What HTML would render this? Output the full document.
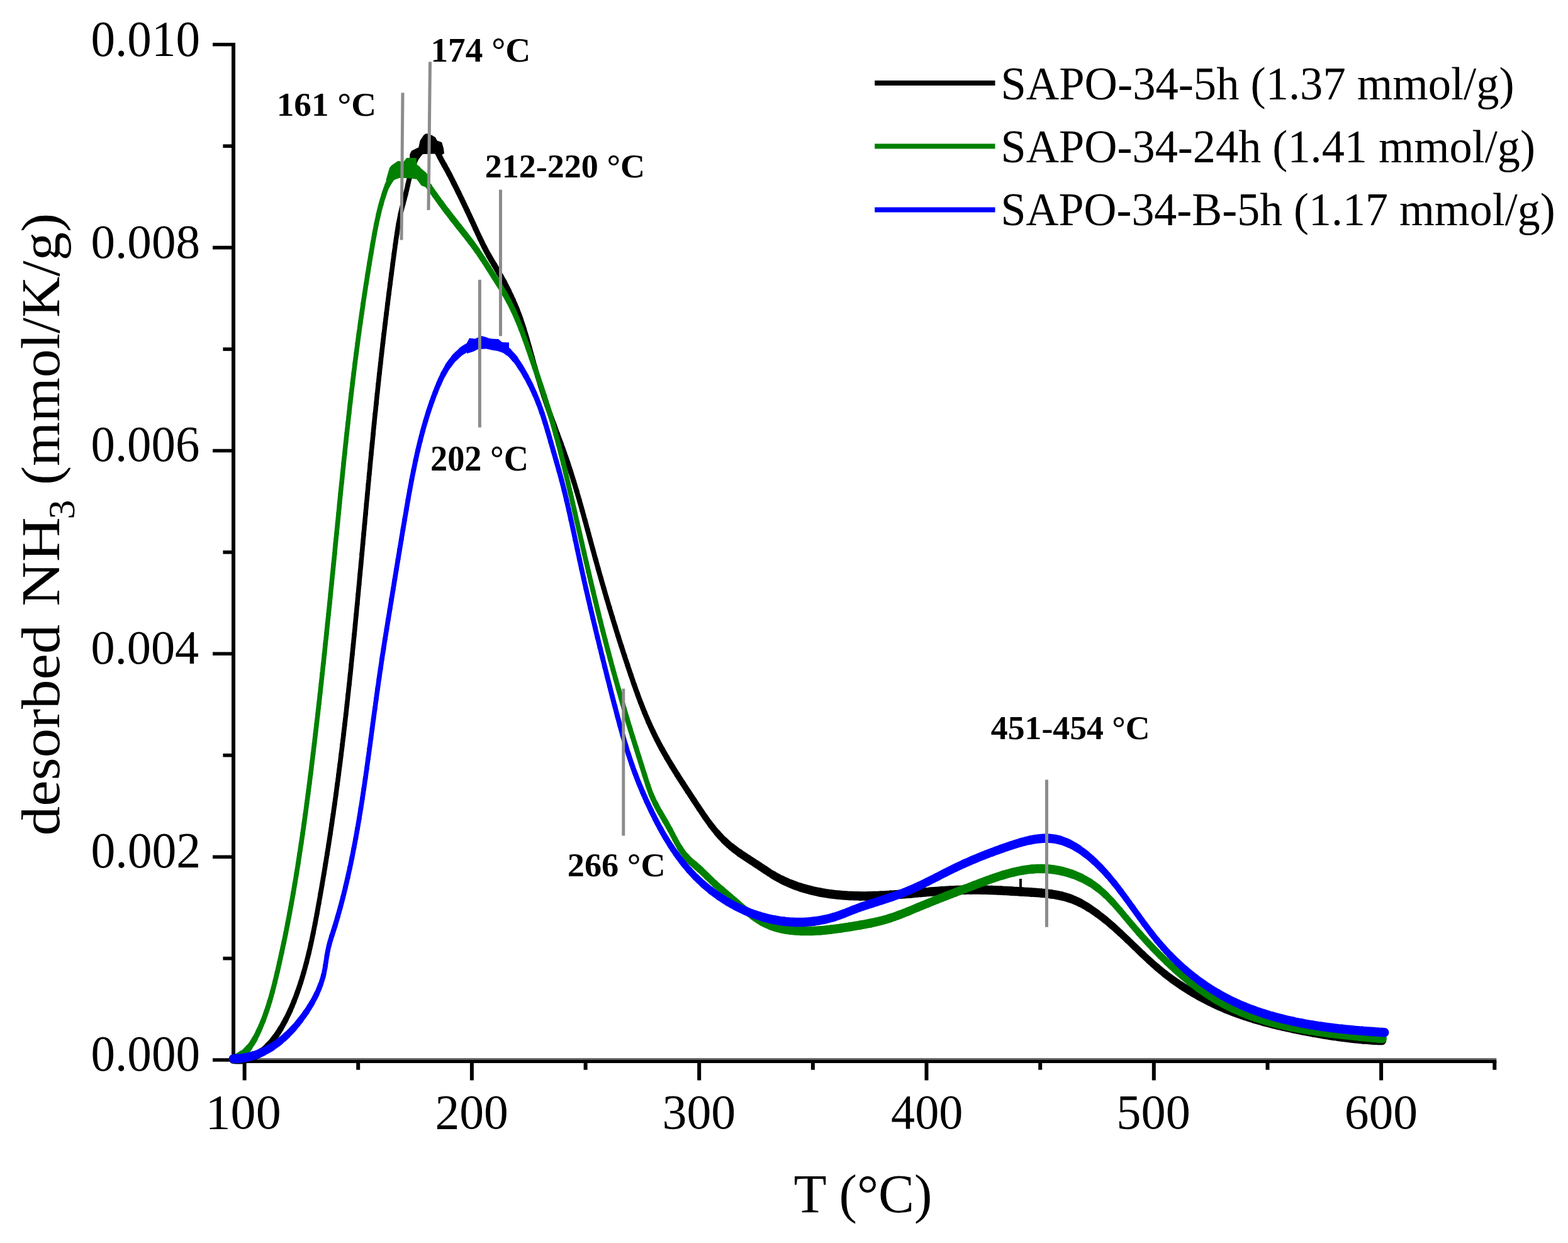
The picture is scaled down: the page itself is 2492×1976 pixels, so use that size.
<!DOCTYPE html><html><head><meta charset="utf-8"><title>NH3-TPD</title><style>html,body{margin:0;padding:0;background:#fff;}svg{display:block;}text{font-family:"Liberation Serif","DejaVu Serif",serif;fill:#000;}</style></head><body>
<svg xmlns="http://www.w3.org/2000/svg" width="2492" height="1976" viewBox="0 0 2492 1976">
<rect width="2492" height="1976" fill="#fff"/>
<g stroke="#000" fill="none" stroke-linecap="butt">
<path d="M371.0,68 V1690.3" stroke-width="6"/>
<rect x="374" y="1682.1" width="2004.3" height="2.7" fill="#666" stroke="none"/>
<path d="M368,1687.4 H2378.3" stroke-width="5.2"/>
<path d="M338,1685.0 H371" stroke-width="5.6"/>
<path d="M354.4,1523.6 H371" stroke-width="5.6"/>
<path d="M338,1362.2 H371" stroke-width="5.6"/>
<path d="M354.4,1200.7 H371" stroke-width="5.6"/>
<path d="M338,1039.3 H371" stroke-width="5.6"/>
<path d="M354.4,877.9 H371" stroke-width="5.6"/>
<path d="M338,716.5 H371" stroke-width="5.6"/>
<path d="M354.4,555.1 H371" stroke-width="5.6"/>
<path d="M338,393.6 H371" stroke-width="5.6"/>
<path d="M354.4,232.2 H371" stroke-width="5.6"/>
<path d="M338,70.8 H371" stroke-width="5.6"/>
<path d="M388.6,1687 V1717.4" stroke-width="6"/>
<path d="M569.2,1687 V1700.7" stroke-width="6"/>
<path d="M749.9,1687 V1717.4" stroke-width="6"/>
<path d="M930.6,1687 V1700.7" stroke-width="6"/>
<path d="M1111.2,1687 V1717.4" stroke-width="6"/>
<path d="M1291.9,1687 V1700.7" stroke-width="6"/>
<path d="M1472.5,1687 V1717.4" stroke-width="6"/>
<path d="M1653.2,1687 V1700.7" stroke-width="6"/>
<path d="M1833.8,1687 V1717.4" stroke-width="6"/>
<path d="M2014.5,1687 V1700.7" stroke-width="6"/>
<path d="M2195.1,1687 V1717.4" stroke-width="6"/>
<path d="M2375.3,1687 V1700.7" stroke-width="6"/>
</g>
<g fill="none" stroke="#000000" stroke-linejoin="round" stroke-linecap="round">
<polyline stroke-width="14.50" points="371.0,1683.9 373.0,1684.1 375.0,1684.2 377.0,1684.3 379.0,1684.3 381.0,1684.3 383.0,1684.2 385.0,1684.0 387.0,1683.8"/>
<polyline stroke-width="14.08" points="387.0,1683.8 388.9,1683.6 390.9,1683.2 392.9,1682.9 394.8,1682.4 396.8,1681.9 398.7,1681.3 400.6,1680.6 402.4,1679.9"/>
<polyline stroke-width="12.70" points="402.4,1679.9 404.3,1679.1 406.1,1678.3 407.8,1677.3 409.6,1676.4 411.3,1675.3 412.9,1674.2 414.6,1673.0 416.2,1671.8"/>
<polyline stroke-width="11.16" points="416.2,1671.8 417.7,1670.6 419.3,1669.3 420.7,1667.9 422.2,1666.6 423.6,1665.2 425.0,1663.7 426.4,1662.3 427.7,1660.8"/>
<polyline stroke-width="10.16" points="427.7,1660.8 429.0,1659.3 430.3,1657.7 431.6,1656.2 432.8,1654.6 434.1,1653.0 435.3,1651.4 436.4,1649.8 437.6,1648.2"/>
<polyline stroke-width="9.58" points="437.6,1648.2 438.7,1646.5 439.9,1644.9 441.0,1643.2 442.1,1641.6 443.2,1639.9 444.2,1638.2 445.3,1636.5 446.3,1634.8"/>
<polyline stroke-width="9.16" points="446.3,1634.8 447.3,1633.1 448.4,1631.3 449.4,1629.6 450.3,1627.8 451.3,1626.1 452.3,1624.3 453.2,1622.6 454.1,1620.8"/>
<polyline stroke-width="8.82" points="454.1,1620.8 455.0,1619.0 455.9,1617.2 456.8,1615.4 457.7,1613.6 458.6,1611.8 459.4,1610.0 460.3,1608.2 461.1,1606.4"/>
<polyline stroke-width="8.55" points="461.1,1606.4 461.9,1604.6 462.7,1602.7 463.5,1600.9 464.3,1599.0 465.0,1597.2 465.8,1595.3 466.6,1593.5 467.3,1591.6"/>
<polyline stroke-width="8.36" points="467.3,1591.6 468.0,1589.8 468.7,1587.9 469.5,1586.0 470.2,1584.2 470.9,1582.3 471.5,1580.4 472.2,1578.5 472.9,1576.6"/>
<polyline stroke-width="8.21" points="472.9,1576.6 473.6,1574.7 474.2,1572.9 474.9,1571.0 475.5,1569.1 476.1,1567.2 476.8,1565.3 477.4,1563.4 478.0,1561.5"/>
<polyline stroke-width="8.09" points="478.0,1561.5 478.6,1559.6 479.2,1557.6 479.8,1555.7 480.4,1553.8 480.9,1551.9 481.5,1550.0 482.1,1548.1 482.6,1546.1"/>
<polyline stroke-width="7.99" points="482.6,1546.1 483.2,1544.2 483.7,1542.3 484.3,1540.4 484.8,1538.4 485.3,1536.5 485.8,1534.6 486.3,1532.6 486.9,1530.7"/>
<polyline stroke-width="7.91" points="486.9,1530.7 487.4,1528.8 487.9,1526.8 488.3,1524.9 488.8,1522.9 489.3,1521.0 489.8,1519.1 490.3,1517.1 490.7,1515.2"/>
<polyline stroke-width="7.85" points="490.7,1515.2 491.2,1513.2 491.7,1511.3 492.1,1509.3 492.6,1507.4 493.0,1505.4 493.4,1503.5 493.9,1501.5 494.3,1499.6"/>
<polyline stroke-width="7.80" points="494.3,1499.6 494.7,1497.6 495.2,1495.7 495.6,1493.7 496.0,1491.7 496.4,1489.8 496.8,1487.8 497.2,1485.9 497.6,1483.9"/>
<polyline stroke-width="7.76" points="497.6,1483.9 498.0,1481.9 498.4,1480.0 498.8,1478.0 499.2,1476.1 499.6,1474.1 500.0,1472.1 500.4,1470.2 500.7,1468.2"/>
<polyline stroke-width="7.74" points="500.7,1468.2 501.1,1466.2 501.5,1464.3 501.9,1462.3 502.2,1460.3 502.6,1458.4 503.0,1456.4 503.3,1454.4 503.7,1452.5"/>
<polyline stroke-width="7.72" points="503.7,1452.5 504.1,1450.5 504.4,1448.5 504.8,1446.6 505.1,1444.6 505.5,1442.6 505.8,1440.7 506.2,1438.7 506.6,1436.7"/>
<polyline stroke-width="7.71" points="506.6,1436.7 506.9,1434.8 507.3,1432.8 507.6,1430.8 508.0,1428.8 508.3,1426.9 508.7,1424.9 509.0,1422.9 509.3,1421.0"/>
<polyline stroke-width="7.70" points="509.3,1421.0 509.7,1419.0 510.0,1417.0 510.4,1415.0 510.7,1413.1 511.1,1411.1 511.4,1409.1 511.7,1407.2 512.1,1405.2"/>
<polyline stroke-width="7.69" points="512.1,1405.2 512.4,1403.2 512.7,1401.2 513.1,1399.3 513.4,1397.3 513.7,1395.3 514.1,1393.3 514.4,1391.4 514.7,1389.4"/>
<polyline stroke-width="7.69" points="514.7,1389.4 515.1,1387.4 515.4,1385.5 515.7,1383.5 516.1,1381.5 516.4,1379.5 516.7,1377.6 517.0,1375.6 517.3,1373.6"/>
<polyline stroke-width="7.68" points="517.3,1373.6 517.7,1371.6 518.0,1369.7 518.3,1367.7 518.6,1365.7 518.9,1363.7 519.3,1361.8 519.6,1359.8 519.9,1357.8"/>
<polyline stroke-width="7.67" points="519.9,1357.8 520.2,1355.8 520.5,1353.9 520.8,1351.9 521.1,1349.9 521.5,1347.9 521.8,1345.9 522.1,1344.0 522.4,1342.0"/>
<polyline stroke-width="7.66" points="522.4,1342.0 522.7,1340.0 523.0,1338.0 523.3,1336.1 523.6,1334.1 523.9,1332.1 524.2,1330.1 524.5,1328.1 524.8,1326.2"/>
<polyline stroke-width="7.65" points="524.8,1326.2 525.1,1324.2 525.4,1322.2 525.7,1320.2 526.0,1318.3 526.3,1316.3 526.6,1314.3 526.9,1312.3 527.2,1310.3"/>
<polyline stroke-width="7.65" points="527.2,1310.3 527.5,1308.4 527.8,1306.4 528.0,1304.4 528.3,1302.4 528.6,1300.4 528.9,1298.5 529.2,1296.5 529.5,1294.5"/>
<polyline stroke-width="7.64" points="529.5,1294.5 529.8,1292.5 530.1,1290.5 530.3,1288.6 530.6,1286.6 530.9,1284.6 531.2,1282.6 531.5,1280.6 531.7,1278.6"/>
<polyline stroke-width="7.63" points="531.7,1278.6 532.0,1276.7 532.3,1274.7 532.6,1272.7 532.8,1270.7 533.1,1268.7 533.4,1266.8 533.7,1264.8 533.9,1262.8"/>
<polyline stroke-width="7.63" points="533.9,1262.8 534.2,1260.8 534.5,1258.8 534.7,1256.8 535.0,1254.9 535.3,1252.9 535.5,1250.9 535.8,1248.9 536.1,1246.9"/>
<polyline stroke-width="7.62" points="536.1,1246.9 536.3,1244.9 536.6,1243.0 536.9,1241.0 537.1,1239.0 537.4,1237.0 537.7,1235.0 537.9,1233.0 538.2,1231.1"/>
<polyline stroke-width="7.61" points="538.2,1231.1 538.4,1229.1 538.7,1227.1 538.9,1225.1 539.2,1223.1 539.4,1221.1 539.7,1219.2 540.0,1217.2 540.2,1215.2"/>
<polyline stroke-width="7.61" points="540.2,1215.2 540.5,1213.2 540.7,1211.2 541.0,1209.2 541.2,1207.2 541.5,1205.3 541.7,1203.3 542.0,1201.3 542.2,1199.3"/>
<polyline stroke-width="7.60" points="542.2,1199.3 542.4,1197.3 542.7,1195.3 542.9,1193.3 543.2,1191.4 543.4,1189.4 543.7,1187.4 543.9,1185.4 544.1,1183.4"/>
<polyline stroke-width="7.60" points="544.1,1183.4 544.4,1181.4 544.6,1179.4 544.9,1177.4 545.1,1175.5 545.3,1173.5 545.6,1171.5 545.8,1169.5 546.0,1167.5"/>
<polyline stroke-width="7.59" points="546.0,1167.5 546.3,1165.5 546.5,1163.5 546.7,1161.6 547.0,1159.6 547.2,1157.6 547.4,1155.6 547.7,1153.6 547.9,1151.6"/>
<polyline stroke-width="7.59" points="547.9,1151.6 548.1,1149.6 548.4,1147.6 548.6,1145.6 548.8,1143.7 549.0,1141.7 549.3,1139.7 549.5,1137.7 549.7,1135.7"/>
<polyline stroke-width="7.59" points="549.7,1135.7 549.9,1133.7 550.2,1131.7 550.4,1129.7 550.6,1127.8 550.8,1125.8 551.1,1123.8 551.3,1121.8 551.5,1119.8"/>
<polyline stroke-width="7.58" points="551.5,1119.8 551.7,1117.8 551.9,1115.8 552.2,1113.8 552.4,1111.8 552.6,1109.9 552.8,1107.9 553.0,1105.9 553.2,1103.9"/>
<polyline stroke-width="7.58" points="553.2,1103.9 553.5,1101.9 553.7,1099.9 553.9,1097.9 554.1,1095.9 554.3,1093.9 554.5,1092.0 554.7,1090.0 555.0,1088.0"/>
<polyline stroke-width="7.58" points="555.0,1088.0 555.2,1086.0 555.4,1084.0 555.6,1082.0 555.8,1080.0 556.0,1078.0 556.2,1076.0 556.4,1074.0 556.6,1072.1"/>
<polyline stroke-width="7.57" points="556.6,1072.1 556.8,1070.1 557.1,1068.1 557.3,1066.1 557.5,1064.1 557.7,1062.1 557.9,1060.1 558.1,1058.1 558.3,1056.1"/>
<polyline stroke-width="7.57" points="558.3,1056.1 558.5,1054.1 558.7,1052.1 558.9,1050.2 559.1,1048.2 559.3,1046.2 559.5,1044.2 559.7,1042.2 559.9,1040.2"/>
<polyline stroke-width="7.57" points="559.9,1040.2 560.1,1038.2 560.3,1036.2 560.5,1034.2 560.7,1032.2 560.9,1030.3 561.1,1028.3 561.3,1026.3 561.5,1024.3"/>
<polyline stroke-width="7.57" points="561.5,1024.3 561.7,1022.3 561.9,1020.3 562.1,1018.3 562.3,1016.3 562.5,1014.3 562.7,1012.3 562.9,1010.3 563.1,1008.3"/>
<polyline stroke-width="7.57" points="563.1,1008.3 563.3,1006.4 563.5,1004.4 563.7,1002.4 563.9,1000.4 564.1,998.4 564.3,996.4 564.4,994.4 564.6,992.4"/>
<polyline stroke-width="7.56" points="564.6,992.4 564.8,990.4 565.0,988.4 565.2,986.4 565.4,984.4 565.6,982.5 565.8,980.5 566.0,978.5 566.2,976.5"/>
<polyline stroke-width="7.56" points="566.2,976.5 566.4,974.5 566.6,972.5 566.7,970.5 566.9,968.5 567.1,966.5 567.3,964.5 567.5,962.5 567.7,960.5"/>
<polyline stroke-width="7.56" points="567.7,960.5 567.9,958.6 568.1,956.6 568.3,954.6 568.4,952.6 568.6,950.6 568.8,948.6 569.0,946.6 569.2,944.6"/>
<polyline stroke-width="7.56" points="569.2,944.6 569.4,942.6 569.6,940.6 569.8,938.6 569.9,936.6 570.1,934.6 570.3,932.7 570.5,930.7 570.7,928.7"/>
<polyline stroke-width="7.56" points="570.7,928.7 570.9,926.7 571.1,924.7 571.2,922.7 571.4,920.7 571.6,918.7 571.8,916.7 572.0,914.7 572.2,912.7"/>
<polyline stroke-width="7.56" points="572.2,912.7 572.4,910.7 572.5,908.7 572.7,906.8 572.9,904.8 573.1,902.8 573.3,900.8 573.5,898.8 573.6,896.8"/>
<polyline stroke-width="7.56" points="573.6,896.8 573.8,894.8 574.0,892.8 574.2,890.8 574.4,888.8 574.6,886.8 574.8,884.8 574.9,882.8 575.1,880.9"/>
<polyline stroke-width="7.56" points="575.1,880.9 575.3,878.9 575.5,876.9 575.7,874.9 575.9,872.9 576.0,870.9 576.2,868.9 576.4,866.9 576.6,864.9"/>
<polyline stroke-width="7.56" points="576.6,864.9 576.8,862.9 576.9,860.9 577.1,858.9 577.3,856.9 577.5,854.9 577.7,853.0 577.9,851.0 578.0,849.0"/>
<polyline stroke-width="7.56" points="578.0,849.0 578.2,847.0 578.4,845.0 578.6,843.0 578.8,841.0 579.0,839.0 579.1,837.0 579.3,835.0 579.5,833.0"/>
<polyline stroke-width="7.56" points="579.5,833.0 579.7,831.0 579.9,829.0 580.1,827.1 580.2,825.1 580.4,823.1 580.6,821.1 580.8,819.1 581.0,817.1"/>
<polyline stroke-width="7.56" points="581.0,817.1 581.2,815.1 581.3,813.1 581.5,811.1 581.7,809.1 581.9,807.1 582.1,805.1 582.3,803.1 582.4,801.1"/>
<polyline stroke-width="7.56" points="582.4,801.1 582.6,799.2 582.8,797.2 583.0,795.2 583.2,793.2 583.4,791.2 583.6,789.2 583.7,787.2 583.9,785.2"/>
<polyline stroke-width="7.56" points="583.9,785.2 584.1,783.2 584.3,781.2 584.5,779.2 584.7,777.2 584.9,775.2 585.0,773.3 585.2,771.3 585.4,769.3"/>
<polyline stroke-width="7.56" points="585.4,769.3 585.6,767.3 585.8,765.3 586.0,763.3 586.2,761.3 586.3,759.3 586.5,757.3 586.7,755.3 586.9,753.3"/>
<polyline stroke-width="7.56" points="586.9,753.3 587.1,751.3 587.3,749.3 587.5,747.4 587.7,745.4 587.9,743.4 588.0,741.4 588.2,739.4 588.4,737.4"/>
<polyline stroke-width="7.56" points="588.4,737.4 588.6,735.4 588.8,733.4 589.0,731.4 589.2,729.4 589.4,727.4 589.6,725.4 589.8,723.5 589.9,721.5"/>
<polyline stroke-width="7.57" points="589.9,721.5 590.1,719.5 590.3,717.5 590.5,715.5 590.7,713.5 590.9,711.5 591.1,709.5 591.3,707.5 591.5,705.5"/>
<polyline stroke-width="7.57" points="591.5,705.5 591.7,703.5 591.9,701.5 592.1,699.6 592.3,697.6 592.5,695.6 592.7,693.6 592.9,691.6 593.1,689.6"/>
<polyline stroke-width="7.57" points="593.1,689.6 593.3,687.6 593.4,685.6 593.6,683.6 593.8,681.6 594.0,679.6 594.2,677.7 594.4,675.7 594.6,673.7"/>
<polyline stroke-width="7.57" points="594.6,673.7 594.8,671.7 595.0,669.7 595.2,667.7 595.4,665.7 595.6,663.7 595.8,661.7 596.0,659.7 596.2,657.7"/>
<polyline stroke-width="7.57" points="596.2,657.7 596.5,655.8 596.7,653.8 596.9,651.8 597.1,649.8 597.3,647.8 597.5,645.8 597.7,643.8 597.9,641.8"/>
<polyline stroke-width="7.58" points="597.9,641.8 598.1,639.8 598.3,637.8 598.5,635.8 598.7,633.9 598.9,631.9 599.1,629.9 599.3,627.9 599.5,625.9"/>
<polyline stroke-width="7.58" points="599.5,625.9 599.8,623.9 600.0,621.9 600.2,619.9 600.4,617.9 600.6,615.9 600.8,614.0 601.0,612.0 601.2,610.0"/>
<polyline stroke-width="7.58" points="601.2,610.0 601.5,608.0 601.7,606.0 601.9,604.0 602.1,602.0 602.3,600.0 602.5,598.0 602.7,596.1 603.0,594.1"/>
<polyline stroke-width="7.58" points="603.0,594.1 603.2,592.1 603.4,590.1 603.6,588.1 603.8,586.1 604.1,584.1 604.3,582.1 604.5,580.1 604.7,578.2"/>
<polyline stroke-width="7.59" points="604.7,578.2 604.9,576.2 605.2,574.2 605.4,572.2 605.6,570.2 605.8,568.2 606.1,566.2 606.3,564.2 606.5,562.2"/>
<polyline stroke-width="7.59" points="606.5,562.2 606.7,560.3 607.0,558.3 607.2,556.3 607.4,554.3 607.7,552.3 607.9,550.3 608.1,548.3 608.4,546.3"/>
<polyline stroke-width="7.60" points="608.4,546.3 608.6,544.4 608.8,542.4 609.0,540.4 609.3,538.4 609.5,536.4 609.7,534.4 610.0,532.4 610.2,530.4"/>
<polyline stroke-width="7.60" points="610.2,530.4 610.5,528.5 610.7,526.5 610.9,524.5 611.2,522.5 611.4,520.5 611.6,518.5 611.9,516.5 612.1,514.6"/>
<polyline stroke-width="7.60" points="612.1,514.6 612.4,512.6 612.6,510.6 612.8,508.6 613.1,506.6 613.3,504.6 613.6,502.6 613.8,500.6 614.1,498.7"/>
<polyline stroke-width="7.61" points="614.1,498.7 614.3,496.7 614.5,494.7 614.8,492.7 615.0,490.7 615.3,488.7 615.5,486.7 615.8,484.8 616.0,482.8"/>
<polyline stroke-width="7.61" points="616.0,482.8 616.3,480.8 616.5,478.8 616.8,476.8 617.0,474.8 617.3,472.8 617.5,470.9 617.8,468.9 618.0,466.9"/>
<polyline stroke-width="7.61" points="618.0,466.9 618.3,464.9 618.5,462.9 618.8,460.9 619.0,459.0 619.3,457.0 619.5,455.0 619.8,453.0 620.1,451.0"/>
<polyline stroke-width="7.62" points="620.1,451.0 620.3,449.0 620.6,447.0 620.8,445.1 621.1,443.1 621.3,441.1 621.6,439.1 621.9,437.1 622.1,435.1"/>
<polyline stroke-width="7.62" points="622.1,435.1 622.4,433.2 622.6,431.2 622.9,429.2 623.2,427.2 623.4,425.2 623.7,423.2 624.0,421.3 624.2,419.3"/>
<polyline stroke-width="7.62" points="624.2,419.3 624.5,417.3 624.7,415.3 625.0,413.3 625.3,411.3 625.5,409.4 625.8,407.4 626.1,405.4 626.3,403.4"/>
<polyline stroke-width="7.63" points="626.3,403.4 626.6,401.4 626.9,399.4 627.1,397.5 627.4,395.5 627.7,393.5 627.9,391.5 628.2,389.5 628.5,387.5"/>
<polyline stroke-width="7.64" points="628.5,387.5 628.8,385.6 629.0,383.6 629.3,381.6 629.6,379.6 629.9,377.6 630.2,375.7 630.5,373.7 630.8,371.7"/>
<polyline stroke-width="7.69" points="630.8,371.7 631.1,369.7 631.4,367.7 631.7,365.8 632.0,363.8 632.3,361.8 632.7,359.8 633.0,357.9 633.4,355.9"/>
<polyline stroke-width="7.77" points="633.4,355.9 633.7,353.9 634.1,352.0 634.5,350.0 634.9,348.0 635.3,346.1 635.7,344.1 636.1,342.2 636.5,340.2"/>
<polyline stroke-width="7.91" points="636.5,340.2 636.9,338.3 637.4,336.3 637.9,334.4 638.3,332.4 638.8,330.5 639.3,328.5 639.8,326.6 640.4,324.7"/>
<polyline stroke-width="7.98" points="640.4,324.7 640.9,322.7 641.4,320.8 641.9,318.9 642.5,317.0 643.0,315.0 643.5,313.1 644.0,311.2 644.5,309.2"/>
<polyline stroke-width="7.87" points="644.5,309.2 645.0,307.3 645.5,305.3 646.0,303.4 646.4,301.4 646.9,299.5 647.3,297.5 647.8,295.6 648.2,293.6"/>
<polyline stroke-width="7.88" points="648.2,293.6 648.6,291.7 649.1,289.7 649.5,287.8 650.0,285.8 650.5,283.9 650.9,281.9 651.4,280.0 651.9,278.1"/>
<polyline stroke-width="8.11" points="651.9,278.1 652.4,276.1 653.0,274.2 653.5,272.3 654.1,270.4 654.7,268.5 655.3,266.6 656.0,264.7 656.6,262.8"/>
<polyline stroke-width="8.67" points="656.6,262.8 657.4,260.9 658.1,259.0 658.9,257.2 659.6,255.4 660.5,253.5 661.3,251.7 662.2,249.9 663.2,248.2"/>
<polyline stroke-width="9.57" points="663.2,248.2 664.2,246.4 665.2,244.7 666.2,243.0 667.3,241.3 668.4,239.6 669.5,238.0 670.7,236.4 671.9,234.8"/>
<polyline stroke-width="10.45" points="671.9,234.8 673.0,233.1 674.2,231.5 675.2,229.8 676.3,228.1 677.4,226.4 678.7,224.9 680.1,223.5 682.0,222.9"/>
<polyline stroke-width="10.25" points="682.0,222.9 683.9,223.5 685.4,224.8 686.7,226.4 687.8,228.0 688.9,229.7 689.9,231.4 690.8,233.2 691.7,235.0"/>
<polyline stroke-width="8.90" points="691.7,235.0 692.6,236.8 693.5,238.6 694.4,240.4 695.3,242.2 696.1,244.0 697.1,245.7 698.0,247.5 698.9,249.3"/>
<polyline stroke-width="9.12" points="698.9,249.3 699.8,251.1 700.8,252.8 701.7,254.6 702.7,256.4 703.6,258.1 704.6,259.9 705.6,261.6 706.6,263.3"/>
<polyline stroke-width="9.10" points="706.6,263.3 707.6,265.1 708.5,266.8 709.5,268.6 710.5,270.3 711.4,272.1 712.4,273.9 713.3,275.6 714.2,277.4"/>
<polyline stroke-width="8.95" points="714.2,277.4 715.2,279.2 716.1,280.9 717.0,282.7 717.9,284.5 718.8,286.3 719.7,288.1 720.6,289.9 721.5,291.7"/>
<polyline stroke-width="8.87" points="721.5,291.7 722.4,293.4 723.3,295.2 724.2,297.0 725.1,298.8 726.0,300.6 726.8,302.4 727.7,304.2 728.6,306.0"/>
<polyline stroke-width="8.83" points="728.6,306.0 729.5,307.8 730.4,309.6 731.2,311.4 732.1,313.2 733.0,315.0 733.9,316.8 734.7,318.6 735.6,320.4"/>
<polyline stroke-width="8.79" points="735.6,320.4 736.5,322.2 737.3,324.0 738.2,325.8 739.0,327.6 739.9,329.4 740.8,331.2 741.6,333.1 742.5,334.9"/>
<polyline stroke-width="8.75" points="742.5,334.9 743.3,336.7 744.2,338.5 745.0,340.3 745.9,342.1 746.7,343.9 747.6,345.7 748.4,347.6 749.2,349.4"/>
<polyline stroke-width="8.72" points="749.2,349.4 750.1,351.2 750.9,353.0 751.8,354.8 752.6,356.6 753.4,358.5 754.3,360.3 755.1,362.1 755.9,363.9"/>
<polyline stroke-width="8.74" points="755.9,363.9 756.8,365.7 757.6,367.5 758.4,369.4 759.3,371.2 760.1,373.0 761.0,374.8 761.8,376.6 762.7,378.4"/>
<polyline stroke-width="8.85" points="762.7,378.4 763.5,380.2 764.4,382.0 765.3,383.8 766.1,385.6 767.0,387.4 767.9,389.2 768.8,391.0 769.7,392.8"/>
<polyline stroke-width="9.05" points="769.7,392.8 770.6,394.6 771.5,396.4 772.4,398.1 773.4,399.9 774.3,401.7 775.3,403.4 776.3,405.2 777.2,406.9"/>
<polyline stroke-width="9.29" points="777.2,406.9 778.2,408.7 779.2,410.4 780.2,412.1 781.2,413.9 782.3,415.6 783.3,417.3 784.3,419.0 785.3,420.7"/>
<polyline stroke-width="9.30" points="785.3,420.7 786.4,422.5 787.4,424.2 788.4,425.9 789.4,427.6 790.4,429.3 791.4,431.1 792.4,432.8 793.4,434.5"/>
<polyline stroke-width="9.15" points="793.4,434.5 794.4,436.3 795.4,438.0 796.4,439.8 797.4,441.5 798.3,443.3 799.3,445.0 800.3,446.8 801.2,448.5"/>
<polyline stroke-width="8.97" points="801.2,448.5 802.2,450.3 803.1,452.1 804.0,453.8 804.9,455.6 805.9,457.4 806.8,459.2 807.7,461.0 808.6,462.8"/>
<polyline stroke-width="8.79" points="808.6,462.8 809.4,464.6 810.3,466.4 811.2,468.2 812.0,470.0 812.9,471.8 813.7,473.6 814.6,475.4 815.4,477.2"/>
<polyline stroke-width="8.59" points="815.4,477.2 816.2,479.1 817.0,480.9 817.9,482.7 818.6,484.5 819.4,486.4 820.2,488.2 821.0,490.1 821.7,491.9"/>
<polyline stroke-width="8.39" points="821.7,491.9 822.5,493.8 823.2,495.7 823.9,497.5 824.7,499.4 825.4,501.3 826.1,503.1 826.7,505.0 827.4,506.9"/>
<polyline stroke-width="8.21" points="827.4,506.9 828.1,508.8 828.7,510.7 829.4,512.6 830.0,514.5 830.7,516.4 831.3,518.3 831.9,520.2 832.5,522.1"/>
<polyline stroke-width="8.10" points="832.5,522.1 833.1,524.0 833.7,525.9 834.3,527.8 834.9,529.7 835.5,531.6 836.1,533.5 836.6,535.5 837.2,537.4"/>
<polyline stroke-width="8.03" points="837.2,537.4 837.8,539.3 838.3,541.2 838.9,543.1 839.4,545.1 840.0,547.0 840.5,548.9 841.1,550.8 841.6,552.8"/>
<polyline stroke-width="8.00" points="841.6,552.8 842.1,554.7 842.7,556.6 843.2,558.6 843.7,560.5 844.3,562.4 844.8,564.3 845.3,566.3 845.9,568.2"/>
<polyline stroke-width="8.01" points="845.9,568.2 846.4,570.1 846.9,572.1 847.5,574.0 848.0,575.9 848.5,577.8 849.1,579.8 849.6,581.7 850.2,583.6"/>
<polyline stroke-width="8.05" points="850.2,583.6 850.7,585.5 851.3,587.5 851.8,589.4 852.4,591.3 852.9,593.2 853.5,595.1 854.1,597.1 854.6,599.0"/>
<polyline stroke-width="8.10" points="854.6,599.0 855.2,600.9 855.8,602.8 856.4,604.7 857.0,606.6 857.5,608.6 858.1,610.5 858.7,612.4 859.3,614.3"/>
<polyline stroke-width="8.16" points="859.3,614.3 859.9,616.2 860.5,618.1 861.1,620.0 861.8,621.9 862.4,623.8 863.0,625.7 863.6,627.6 864.2,629.5"/>
<polyline stroke-width="8.22" points="864.2,629.5 864.9,631.4 865.5,633.3 866.1,635.2 866.8,637.1 867.4,639.0 868.1,640.9 868.7,642.8 869.4,644.7"/>
<polyline stroke-width="8.29" points="869.4,644.7 870.1,646.6 870.7,648.5 871.4,650.3 872.1,652.2 872.7,654.1 873.4,656.0 874.1,657.9 874.8,659.8"/>
<polyline stroke-width="8.33" points="874.8,659.8 875.4,661.6 876.1,663.5 876.8,665.4 877.5,667.3 878.2,669.2 878.9,671.0 879.6,672.9 880.3,674.8"/>
<polyline stroke-width="8.35" points="880.3,674.8 881.0,676.7 881.7,678.5 882.3,680.4 883.0,682.3 883.7,684.2 884.4,686.1 885.1,687.9 885.8,689.8"/>
<polyline stroke-width="8.34" points="885.8,689.8 886.5,691.7 887.2,693.6 887.9,695.4 888.6,697.3 889.3,699.2 890.0,701.1 890.7,702.9 891.4,704.8"/>
<polyline stroke-width="8.31" points="891.4,704.8 892.1,706.7 892.7,708.6 893.4,710.5 894.1,712.3 894.8,714.2 895.5,716.1 896.1,718.0 896.8,719.9"/>
<polyline stroke-width="8.26" points="896.8,719.9 897.5,721.8 898.1,723.6 898.8,725.5 899.5,727.4 900.1,729.3 900.8,731.2 901.4,733.1 902.1,735.0"/>
<polyline stroke-width="8.19" points="902.1,735.0 902.7,736.9 903.4,738.8 904.0,740.7 904.6,742.6 905.2,744.5 905.9,746.4 906.5,748.3 907.1,750.2"/>
<polyline stroke-width="8.13" points="907.1,750.2 907.7,752.1 908.3,754.0 908.9,755.9 909.5,757.8 910.1,759.7 910.7,761.6 911.3,763.6 911.9,765.5"/>
<polyline stroke-width="8.08" points="911.9,765.5 912.5,767.4 913.1,769.3 913.7,771.2 914.2,773.1 914.8,775.0 915.4,777.0 916.0,778.9 916.5,780.8"/>
<polyline stroke-width="8.04" points="916.5,780.8 917.1,782.7 917.6,784.6 918.2,786.6 918.8,788.5 919.3,790.4 919.9,792.3 920.4,794.2 921.0,796.2"/>
<polyline stroke-width="8.02" points="921.0,796.2 921.5,798.1 922.1,800.0 922.6,801.9 923.2,803.9 923.7,805.8 924.3,807.7 924.8,809.6 925.3,811.6"/>
<polyline stroke-width="8.00" points="925.3,811.6 925.9,813.5 926.4,815.4 926.9,817.4 927.5,819.3 928.0,821.2 928.5,823.1 929.1,825.1 929.6,827.0"/>
<polyline stroke-width="7.98" points="929.6,827.0 930.1,828.9 930.6,830.9 931.2,832.8 931.7,834.7 932.2,836.7 932.7,838.6 933.3,840.5 933.8,842.4"/>
<polyline stroke-width="7.98" points="933.8,842.4 934.3,844.4 934.8,846.3 935.4,848.2 935.9,850.2 936.4,852.1 936.9,854.0 937.4,856.0 938.0,857.9"/>
<polyline stroke-width="7.98" points="938.0,857.9 938.5,859.8 939.0,861.8 939.5,863.7 940.1,865.6 940.6,867.6 941.1,869.5 941.6,871.4 942.2,873.3"/>
<polyline stroke-width="7.99" points="942.2,873.3 942.7,875.3 943.2,877.2 943.8,879.1 944.3,881.1 944.8,883.0 945.3,884.9 945.9,886.9 946.4,888.8"/>
<polyline stroke-width="8.00" points="946.4,888.8 946.9,890.7 947.5,892.6 948.0,894.6 948.5,896.5 949.1,898.4 949.6,900.3 950.2,902.3 950.7,904.2"/>
<polyline stroke-width="8.02" points="950.7,904.2 951.2,906.1 951.8,908.1 952.3,910.0 952.9,911.9 953.4,913.8 954.0,915.8 954.5,917.7 955.1,919.6"/>
<polyline stroke-width="8.03" points="955.1,919.6 955.6,921.5 956.1,923.5 956.7,925.4 957.2,927.3 957.8,929.2 958.4,931.2 958.9,933.1 959.5,935.0"/>
<polyline stroke-width="8.05" points="959.5,935.0 960.0,936.9 960.6,938.8 961.1,940.8 961.7,942.7 962.2,944.6 962.8,946.5 963.4,948.4 963.9,950.4"/>
<polyline stroke-width="8.06" points="963.9,950.4 964.5,952.3 965.1,954.2 965.6,956.1 966.2,958.0 966.8,960.0 967.3,961.9 967.9,963.8 968.5,965.7"/>
<polyline stroke-width="8.08" points="968.5,965.7 969.0,967.6 969.6,969.6 970.2,971.5 970.8,973.4 971.3,975.3 971.9,977.2 972.5,979.1 973.1,981.0"/>
<polyline stroke-width="8.10" points="973.1,981.0 973.7,983.0 974.2,984.9 974.8,986.8 975.4,988.7 976.0,990.6 976.6,992.5 977.2,994.4 977.8,996.4"/>
<polyline stroke-width="8.12" points="977.8,996.4 978.4,998.3 978.9,1000.2 979.5,1002.1 980.1,1004.0 980.7,1005.9 981.3,1007.8 981.9,1009.7 982.5,1011.6"/>
<polyline stroke-width="8.14" points="982.5,1011.6 983.1,1013.5 983.7,1015.5 984.3,1017.4 984.9,1019.3 985.5,1021.2 986.1,1023.1 986.8,1025.0 987.4,1026.9"/>
<polyline stroke-width="8.16" points="987.4,1026.9 988.0,1028.8 988.6,1030.7 989.2,1032.6 989.8,1034.5 990.4,1036.4 991.0,1038.3 991.7,1040.2 992.3,1042.1"/>
<polyline stroke-width="8.18" points="992.3,1042.1 992.9,1044.0 993.5,1045.9 994.1,1047.8 994.8,1049.7 995.4,1051.6 996.0,1053.5 996.7,1055.4 997.3,1057.3"/>
<polyline stroke-width="8.21" points="997.3,1057.3 997.9,1059.2 998.5,1061.1 999.2,1063.0 999.8,1064.9 1000.5,1066.8 1001.1,1068.7 1001.7,1070.6 1002.4,1072.5"/>
<polyline stroke-width="8.24" points="1002.4,1072.5 1003.0,1074.4 1003.7,1076.3 1004.3,1078.2 1005.0,1080.1 1005.6,1082.0 1006.3,1083.9 1006.9,1085.8 1007.6,1087.7"/>
<polyline stroke-width="8.29" points="1007.6,1087.7 1008.2,1089.5 1008.9,1091.4 1009.6,1093.3 1010.2,1095.2 1010.9,1097.1 1011.6,1099.0 1012.3,1100.9 1013.0,1102.7"/>
<polyline stroke-width="8.35" points="1013.0,1102.7 1013.6,1104.6 1014.3,1106.5 1015.0,1108.4 1015.7,1110.2 1016.4,1112.1 1017.1,1114.0 1017.8,1115.9 1018.5,1117.7"/>
<polyline stroke-width="8.44" points="1018.5,1117.7 1019.3,1119.6 1020.0,1121.5 1020.7,1123.3 1021.4,1125.2 1022.2,1127.1 1022.9,1128.9 1023.7,1130.8 1024.4,1132.6"/>
<polyline stroke-width="8.56" points="1024.4,1132.6 1025.2,1134.5 1025.9,1136.3 1026.7,1138.2 1027.5,1140.0 1028.3,1141.9 1029.1,1143.7 1029.8,1145.5 1030.6,1147.4"/>
<polyline stroke-width="8.70" points="1030.6,1147.4 1031.4,1149.2 1032.3,1151.0 1033.1,1152.9 1033.9,1154.7 1034.7,1156.5 1035.6,1158.3 1036.4,1160.1 1037.3,1161.9"/>
<polyline stroke-width="8.87" points="1037.3,1161.9 1038.1,1163.8 1039.0,1165.6 1039.9,1167.4 1040.7,1169.2 1041.6,1170.9 1042.5,1172.7 1043.4,1174.5 1044.3,1176.3"/>
<polyline stroke-width="9.05" points="1044.3,1176.3 1045.2,1178.1 1046.2,1179.9 1047.1,1181.6 1048.0,1183.4 1049.0,1185.2 1049.9,1186.9 1050.9,1188.7 1051.9,1190.4"/>
<polyline stroke-width="9.21" points="1051.9,1190.4 1052.8,1192.2 1053.8,1193.9 1054.8,1195.7 1055.8,1197.4 1056.8,1199.2 1057.8,1200.9 1058.8,1202.6 1059.8,1204.4"/>
<polyline stroke-width="9.34" points="1059.8,1204.4 1060.8,1206.1 1061.8,1207.8 1062.8,1209.5 1063.8,1211.2 1064.9,1213.0 1065.9,1214.7 1066.9,1216.4 1068.0,1218.1"/>
<polyline stroke-width="9.45" points="1068.0,1218.1 1069.0,1219.8 1070.1,1221.5 1071.1,1223.2 1072.2,1224.9 1073.2,1226.6 1074.3,1228.3 1075.4,1230.0 1076.4,1231.7"/>
<polyline stroke-width="9.54" points="1076.4,1231.7 1077.5,1233.4 1078.6,1235.1 1079.6,1236.8 1080.7,1238.4 1081.8,1240.1 1082.9,1241.8 1084.0,1243.5 1085.1,1245.2"/>
<polyline stroke-width="9.59" points="1085.1,1245.2 1086.1,1246.8 1087.2,1248.5 1088.3,1250.2 1089.4,1251.9 1090.5,1253.6 1091.6,1255.2 1092.7,1256.9 1093.8,1258.6"/>
<polyline stroke-width="9.62" points="1093.8,1258.6 1094.9,1260.2 1096.0,1261.9 1097.1,1263.6 1098.2,1265.3 1099.3,1266.9 1100.4,1268.6 1101.5,1270.3 1102.6,1271.9"/>
<polyline stroke-width="9.62" points="1102.6,1271.9 1103.7,1273.6 1104.8,1275.3 1105.9,1277.0 1107.0,1278.6 1108.1,1280.3 1109.2,1282.0 1110.3,1283.6 1111.4,1285.3"/>
<polyline stroke-width="9.69" points="1111.4,1285.3 1112.5,1287.0 1113.6,1288.6 1114.8,1290.3 1115.9,1292.0 1117.0,1293.6 1118.1,1295.3 1119.2,1296.9 1120.4,1298.6"/>
<polyline stroke-width="9.89" points="1120.4,1298.6 1121.5,1300.2 1122.7,1301.9 1123.8,1303.5 1125.0,1305.1 1126.2,1306.7 1127.4,1308.3 1128.5,1310.0 1129.7,1311.6"/>
<polyline stroke-width="10.24" points="1129.7,1311.6 1131.0,1313.2 1132.2,1314.7 1133.4,1316.3 1134.7,1317.9 1135.9,1319.4 1137.2,1321.0 1138.5,1322.5 1139.8,1324.0"/>
<polyline stroke-width="10.75" points="1139.8,1324.0 1141.1,1325.6 1142.4,1327.1 1143.7,1328.5 1145.1,1330.0 1146.4,1331.5 1147.8,1332.9 1149.2,1334.4 1150.7,1335.8"/>
<polyline stroke-width="11.40" points="1150.7,1335.8 1152.1,1337.2 1153.5,1338.5 1155.0,1339.9 1156.5,1341.2 1158.0,1342.6 1159.5,1343.9 1161.0,1345.1 1162.6,1346.4"/>
<polyline stroke-width="11.98" points="1162.6,1346.4 1164.2,1347.7 1165.7,1348.9 1167.3,1350.1 1168.9,1351.3 1170.5,1352.5 1172.1,1353.7 1173.8,1354.9 1175.4,1356.0"/>
<polyline stroke-width="12.32" points="1175.4,1356.0 1177.0,1357.2 1178.7,1358.3 1180.3,1359.4 1182.0,1360.5 1183.7,1361.6 1185.3,1362.7 1187.0,1363.8 1188.7,1364.9"/>
<polyline stroke-width="12.43" points="1188.7,1364.9 1190.4,1366.0 1192.0,1367.1 1193.7,1368.2 1195.4,1369.3 1197.1,1370.4 1198.8,1371.5 1200.4,1372.6 1202.1,1373.7"/>
<polyline stroke-width="12.36" points="1202.1,1373.7 1203.8,1374.7 1205.5,1375.8 1207.1,1376.9 1208.8,1378.1 1210.5,1379.2 1212.1,1380.3 1213.8,1381.4 1215.5,1382.5"/>
<polyline stroke-width="12.46" points="1215.5,1382.5 1217.1,1383.6 1218.8,1384.7 1220.5,1385.8 1222.1,1386.9 1223.8,1388.0 1225.5,1389.0 1227.2,1390.1 1228.9,1391.1"/>
<polyline stroke-width="12.88" points="1228.9,1391.1 1230.7,1392.2 1232.4,1393.2 1234.1,1394.2 1235.9,1395.1 1237.6,1396.1 1239.4,1397.0 1241.2,1397.9 1243.0,1398.8"/>
<polyline stroke-width="13.34" points="1243.0,1398.8 1244.8,1399.7 1246.6,1400.6 1248.4,1401.4 1250.2,1402.2 1252.0,1403.0 1253.9,1403.8 1255.7,1404.6 1257.6,1405.3"/>
<polyline stroke-width="13.70" points="1257.6,1405.3 1259.4,1406.1 1261.3,1406.8 1263.2,1407.5 1265.1,1408.2 1267.0,1408.9 1268.8,1409.5 1270.7,1410.1 1272.6,1410.8"/>
<polyline stroke-width="13.97" points="1272.6,1410.8 1274.6,1411.4 1276.5,1411.9 1278.4,1412.5 1280.3,1413.1 1282.2,1413.6 1284.2,1414.1 1286.1,1414.6 1288.0,1415.1"/>
<polyline stroke-width="14.18" points="1288.0,1415.1 1290.0,1415.6 1291.9,1416.1 1293.9,1416.5 1295.8,1417.0 1297.8,1417.4 1299.7,1417.8 1301.7,1418.2 1303.7,1418.6"/>
<polyline stroke-width="14.32" points="1303.7,1418.6 1305.6,1418.9 1307.6,1419.3 1309.6,1419.6 1311.6,1420.0 1313.5,1420.3 1315.5,1420.6 1317.5,1420.9 1319.5,1421.1"/>
<polyline stroke-width="14.41" points="1319.5,1421.1 1321.5,1421.4 1323.4,1421.7 1325.4,1421.9 1327.4,1422.1 1329.4,1422.3 1331.4,1422.5 1333.4,1422.7 1335.4,1422.9"/>
<polyline stroke-width="14.47" points="1335.4,1422.9 1337.4,1423.1 1339.4,1423.2 1341.4,1423.4 1343.4,1423.5 1345.4,1423.6 1347.4,1423.8 1349.3,1423.9 1351.3,1424.0"/>
<polyline stroke-width="14.50" points="1351.3,1424.0 1353.3,1424.0 1355.3,1424.1 1357.3,1424.2 1359.3,1424.2 1361.3,1424.3 1363.3,1424.3 1365.3,1424.4 1367.3,1424.4"/>
<polyline stroke-width="14.50" points="1367.3,1424.4 1369.4,1424.4 1371.4,1424.4 1373.4,1424.4 1375.4,1424.4 1377.4,1424.4 1379.4,1424.3 1381.4,1424.3 1383.4,1424.2"/>
<polyline stroke-width="14.49" points="1383.4,1424.2 1385.4,1424.2 1387.4,1424.1 1389.4,1424.1 1391.4,1424.0 1393.4,1423.9 1395.4,1423.9 1397.4,1423.8 1399.4,1423.7"/>
<polyline stroke-width="14.48" points="1399.4,1423.7 1401.4,1423.6 1403.4,1423.5 1405.3,1423.4 1407.3,1423.3 1409.3,1423.2 1411.3,1423.0 1413.3,1422.9 1415.3,1422.8"/>
<polyline stroke-width="14.46" points="1415.3,1422.8 1417.3,1422.6 1419.3,1422.5 1421.3,1422.4 1423.3,1422.2 1425.3,1422.1 1427.3,1421.9 1429.3,1421.8 1431.3,1421.6"/>
<polyline stroke-width="14.45" points="1431.3,1421.6 1433.3,1421.5 1435.3,1421.3 1437.3,1421.2 1439.3,1421.0 1441.3,1420.8 1443.3,1420.7 1445.3,1420.5 1447.3,1420.3"/>
<polyline stroke-width="14.45" points="1447.3,1420.3 1449.3,1420.2 1451.2,1420.0 1453.2,1419.8 1455.2,1419.6 1457.2,1419.5 1459.2,1419.3 1461.2,1419.1 1463.2,1419.0"/>
<polyline stroke-width="14.45" points="1463.2,1419.0 1465.2,1418.8 1467.2,1418.6 1469.2,1418.5 1471.2,1418.3 1473.2,1418.1 1475.2,1418.0 1477.2,1417.8 1479.2,1417.7"/>
<polyline stroke-width="14.46" points="1479.2,1417.7 1481.2,1417.5 1483.2,1417.3 1485.1,1417.2 1487.1,1417.0 1489.1,1416.9 1491.1,1416.7 1493.1,1416.6 1495.1,1416.5"/>
<polyline stroke-width="14.47" points="1495.1,1416.5 1497.1,1416.3 1499.1,1416.2 1501.1,1416.1 1503.1,1416.0 1505.1,1415.8 1507.1,1415.7 1509.1,1415.6 1511.1,1415.5"/>
<polyline stroke-width="14.49" points="1511.1,1415.5 1513.1,1415.4 1515.1,1415.3 1517.1,1415.2 1519.1,1415.1 1521.1,1415.1 1523.1,1415.0 1525.1,1414.9 1527.1,1414.9"/>
<polyline stroke-width="14.50" points="1527.1,1414.9 1529.1,1414.8 1531.1,1414.8 1533.1,1414.7 1535.1,1414.7 1537.1,1414.6 1539.1,1414.6 1541.1,1414.6 1543.1,1414.6"/>
<polyline stroke-width="14.50" points="1543.1,1414.6 1545.1,1414.6 1547.1,1414.6 1549.1,1414.6 1551.1,1414.6 1553.1,1414.6 1555.1,1414.6 1557.1,1414.6 1559.1,1414.6"/>
<polyline stroke-width="14.50" points="1559.1,1414.6 1561.1,1414.7 1563.1,1414.7 1565.1,1414.7 1567.1,1414.8 1569.1,1414.8 1571.1,1414.9 1573.1,1415.0 1575.1,1415.0"/>
<polyline stroke-width="14.49" points="1575.1,1415.0 1577.1,1415.1 1579.1,1415.2 1581.1,1415.2 1583.1,1415.3 1585.1,1415.4 1587.1,1415.5 1589.1,1415.6 1591.1,1415.7"/>
<polyline stroke-width="14.48" points="1591.1,1415.7 1593.1,1415.8 1595.1,1415.9 1597.1,1416.0 1599.1,1416.1 1601.1,1416.2 1603.1,1416.3 1605.1,1416.4 1607.1,1416.5"/>
<polyline stroke-width="14.48" points="1607.1,1416.5 1609.1,1416.7 1611.1,1416.8 1613.1,1416.9 1615.1,1417.0 1617.1,1417.1 1619.1,1417.3 1621.1,1417.4 1623.1,1417.5"/>
<polyline stroke-width="14.47" points="1623.1,1417.5 1625.1,1417.6 1627.1,1417.7 1629.1,1417.9 1631.1,1418.0 1633.1,1418.1 1635.1,1418.2 1637.1,1418.3 1639.0,1418.5"/>
<polyline stroke-width="14.46" points="1639.0,1418.5 1641.0,1418.6 1643.0,1418.7 1645.0,1418.8 1647.0,1419.0 1649.0,1419.1 1651.0,1419.3 1653.0,1419.4 1655.0,1419.6"/>
<polyline stroke-width="14.41" points="1655.0,1419.6 1657.0,1419.8 1659.0,1420.0 1661.0,1420.2 1663.0,1420.4 1665.0,1420.6 1667.0,1420.9 1668.9,1421.1 1670.9,1421.4"/>
<polyline stroke-width="14.27" points="1670.9,1421.4 1672.9,1421.7 1674.9,1422.0 1676.9,1422.3 1678.8,1422.7 1680.8,1423.1 1682.7,1423.4 1684.7,1423.9 1686.7,1424.3"/>
<polyline stroke-width="13.95" points="1686.7,1424.3 1688.6,1424.8 1690.5,1425.3 1692.5,1425.8 1694.4,1426.3 1696.3,1426.9 1698.2,1427.5 1700.1,1428.1 1702.0,1428.8"/>
<polyline stroke-width="13.37" points="1702.0,1428.8 1703.9,1429.5 1705.7,1430.2 1707.6,1431.0 1709.4,1431.8 1711.3,1432.6 1713.1,1433.5 1714.9,1434.3 1716.7,1435.2"/>
<polyline stroke-width="12.75" points="1716.7,1435.2 1718.4,1436.2 1720.2,1437.1 1721.9,1438.1 1723.7,1439.1 1725.4,1440.1 1727.1,1441.1 1728.8,1442.2 1730.5,1443.2"/>
<polyline stroke-width="12.25" points="1730.5,1443.2 1732.2,1444.3 1733.9,1445.4 1735.5,1446.5 1737.2,1447.7 1738.8,1448.8 1740.5,1450.0 1742.1,1451.1 1743.7,1452.3"/>
<polyline stroke-width="11.88" points="1743.7,1452.3 1745.3,1453.5 1746.9,1454.7 1748.5,1455.9 1750.1,1457.1 1751.7,1458.4 1753.2,1459.6 1754.8,1460.8 1756.4,1462.1"/>
<polyline stroke-width="11.58" points="1756.4,1462.1 1757.9,1463.4 1759.5,1464.6 1761.0,1465.9 1762.5,1467.2 1764.0,1468.5 1765.6,1469.8 1767.1,1471.1 1768.6,1472.4"/>
<polyline stroke-width="11.35" points="1768.6,1472.4 1770.1,1473.8 1771.6,1475.1 1773.1,1476.4 1774.5,1477.8 1776.0,1479.1 1777.5,1480.5 1779.0,1481.8 1780.4,1483.2"/>
<polyline stroke-width="11.20" points="1780.4,1483.2 1781.9,1484.5 1783.4,1485.9 1784.8,1487.3 1786.3,1488.7 1787.7,1490.0 1789.2,1491.4 1790.6,1492.8 1792.1,1494.2"/>
<polyline stroke-width="11.14" points="1792.1,1494.2 1793.5,1495.6 1795.0,1496.9 1796.4,1498.3 1797.9,1499.7 1799.3,1501.1 1800.7,1502.5 1802.2,1503.9 1803.6,1505.3"/>
<polyline stroke-width="11.15" points="1803.6,1505.3 1805.1,1506.7 1806.5,1508.0 1808.0,1509.4 1809.4,1510.8 1810.8,1512.2 1812.3,1513.6 1813.7,1515.0 1815.2,1516.3"/>
<polyline stroke-width="11.25" points="1815.2,1516.3 1816.6,1517.7 1818.1,1519.1 1819.6,1520.5 1821.0,1521.8 1822.5,1523.2 1824.0,1524.5 1825.4,1525.9 1826.9,1527.3"/>
<polyline stroke-width="11.42" points="1826.9,1527.3 1828.4,1528.6 1829.9,1529.9 1831.4,1531.3 1832.8,1532.6 1834.3,1533.9 1835.9,1535.2 1837.4,1536.6 1838.9,1537.9"/>
<polyline stroke-width="11.68" points="1838.9,1537.9 1840.4,1539.2 1841.9,1540.5 1843.5,1541.7 1845.0,1543.0 1846.6,1544.3 1848.1,1545.5 1849.7,1546.8 1851.2,1548.0"/>
<polyline stroke-width="11.97" points="1851.2,1548.0 1852.8,1549.3 1854.4,1550.5 1856.0,1551.7 1857.6,1552.9 1859.2,1554.1 1860.8,1555.3 1862.4,1556.5 1864.0,1557.7"/>
<polyline stroke-width="12.24" points="1864.0,1557.7 1865.7,1558.8 1867.3,1560.0 1868.9,1561.1 1870.6,1562.3 1872.2,1563.4 1873.9,1564.5 1875.5,1565.6 1877.2,1566.8"/>
<polyline stroke-width="12.51" points="1877.2,1566.8 1878.9,1567.8 1880.6,1568.9 1882.2,1570.0 1883.9,1571.1 1885.6,1572.2 1887.3,1573.2 1889.0,1574.3 1890.7,1575.3"/>
<polyline stroke-width="12.75" points="1890.7,1575.3 1892.5,1576.3 1894.2,1577.3 1895.9,1578.4 1897.6,1579.4 1899.4,1580.4 1901.1,1581.3 1902.9,1582.3 1904.6,1583.3"/>
<polyline stroke-width="12.99" points="1904.6,1583.3 1906.4,1584.3 1908.1,1585.2 1909.9,1586.1 1911.7,1587.1 1913.4,1588.0 1915.2,1588.9 1917.0,1589.8 1918.8,1590.7"/>
<polyline stroke-width="13.20" points="1918.8,1590.7 1920.6,1591.6 1922.4,1592.5 1924.2,1593.4 1926.0,1594.2 1927.8,1595.1 1929.6,1595.9 1931.4,1596.8 1933.2,1597.6"/>
<polyline stroke-width="13.41" points="1933.2,1597.6 1935.1,1598.4 1936.9,1599.3 1938.7,1600.1 1940.6,1600.9 1942.4,1601.6 1944.2,1602.4 1946.1,1603.2 1947.9,1603.9"/>
<polyline stroke-width="13.59" points="1947.9,1603.9 1949.8,1604.7 1951.6,1605.4 1953.5,1606.2 1955.4,1606.9 1957.2,1607.6 1959.1,1608.3 1961.0,1609.0 1962.9,1609.7"/>
<polyline stroke-width="13.74" points="1962.9,1609.7 1964.7,1610.4 1966.6,1611.1 1968.5,1611.8 1970.4,1612.4 1972.3,1613.1 1974.2,1613.7 1976.1,1614.4 1978.0,1615.0"/>
<polyline stroke-width="13.87" points="1978.0,1615.0 1979.9,1615.6 1981.8,1616.2 1983.7,1616.8 1985.6,1617.5 1987.5,1618.1 1989.4,1618.6 1991.3,1619.2 1993.2,1619.8"/>
<polyline stroke-width="13.98" points="1993.2,1619.8 1995.2,1620.4 1997.1,1620.9 1999.0,1621.5 2000.9,1622.0 2002.9,1622.6 2004.8,1623.1 2006.7,1623.7 2008.6,1624.2"/>
<polyline stroke-width="14.06" points="2008.6,1624.2 2010.6,1624.7 2012.5,1625.2 2014.4,1625.7 2016.4,1626.2 2018.3,1626.7 2020.3,1627.2 2022.2,1627.7 2024.1,1628.2"/>
<polyline stroke-width="14.13" points="2024.1,1628.2 2026.1,1628.7 2028.0,1629.1 2030.0,1629.6 2031.9,1630.1 2033.9,1630.5 2035.8,1631.0 2037.8,1631.4 2039.7,1631.9"/>
<polyline stroke-width="14.18" points="2039.7,1631.9 2041.7,1632.3 2043.6,1632.7 2045.6,1633.2 2047.5,1633.6 2049.5,1634.0 2051.4,1634.4 2053.4,1634.9 2055.4,1635.3"/>
<polyline stroke-width="14.23" points="2055.4,1635.3 2057.3,1635.7 2059.3,1636.1 2061.2,1636.5 2063.2,1636.9 2065.2,1637.3 2067.1,1637.7 2069.1,1638.1 2071.0,1638.4"/>
<polyline stroke-width="14.26" points="2071.0,1638.4 2073.0,1638.8 2075.0,1639.2 2076.9,1639.6 2078.9,1639.9 2080.9,1640.3 2082.8,1640.7 2084.8,1641.0 2086.8,1641.4"/>
<polyline stroke-width="14.29" points="2086.8,1641.4 2088.7,1641.8 2090.7,1642.1 2092.7,1642.5 2094.7,1642.8 2096.6,1643.2 2098.6,1643.5 2100.6,1643.8 2102.5,1644.2"/>
<polyline stroke-width="14.33" points="2102.5,1644.2 2104.5,1644.5 2106.5,1644.8 2108.5,1645.1 2110.4,1645.4 2112.4,1645.8 2114.4,1646.1 2116.4,1646.4 2118.4,1646.7"/>
<polyline stroke-width="14.37" points="2118.4,1646.7 2120.3,1647.0 2122.3,1647.2 2124.3,1647.5 2126.3,1647.8 2128.3,1648.1 2130.2,1648.4 2132.2,1648.6 2134.2,1648.9"/>
<polyline stroke-width="14.40" points="2134.2,1648.9 2136.2,1649.1 2138.2,1649.4 2140.2,1649.6 2142.2,1649.9 2144.1,1650.1 2146.1,1650.3 2148.1,1650.6 2150.1,1650.8"/>
<polyline stroke-width="14.44" points="2150.1,1650.8 2152.1,1651.0 2154.1,1651.2 2156.1,1651.4 2158.1,1651.6 2160.1,1651.8 2162.1,1652.0 2164.0,1652.1 2166.0,1652.3"/>
<polyline stroke-width="14.46" points="2166.0,1652.3 2168.0,1652.5 2170.0,1652.6 2172.0,1652.8 2174.0,1652.9 2176.0,1653.1 2178.0,1653.2 2180.0,1653.3 2182.0,1653.5"/>
<polyline stroke-width="14.48" points="2182.0,1653.5 2184.0,1653.6 2186.0,1653.7 2188.0,1653.8 2190.0,1653.9 2192.0,1654.0 2194.0,1654.0 2196.0,1654.1"/>
</g>
<polygon fill="#000000" points="651.2,245.4 654.0,239.8 665.3,234.2 667.6,223.4 673.2,215.0 676.5,212.4 681.0,212.6 686.8,215.2 691.9,218.2 694.7,223.4 702.2,226.2 705.0,236.0 706.0,244.0 700.0,247.0 690.0,244.4 672.0,245.0 664.0,254.0 651.2,253.0"/>
<g fill="none" stroke="#008000" stroke-linejoin="round" stroke-linecap="round">
<polyline stroke-width="12.85" points="370.9,1683.9 372.8,1683.2 374.6,1682.4 376.4,1681.5 378.2,1680.6 379.9,1679.6 381.6,1678.5 383.3,1677.4 384.9,1676.2"/>
<polyline stroke-width="10.97" points="384.9,1676.2 386.4,1674.9 388.0,1673.6 389.4,1672.3 390.9,1670.9 392.2,1669.4 393.6,1668.0 394.9,1666.4 396.1,1664.9"/>
<polyline stroke-width="9.59" points="396.1,1664.9 397.3,1663.3 398.5,1661.7 399.7,1660.0 400.8,1658.3 401.8,1656.7 402.9,1654.9 403.9,1653.2 404.9,1651.5"/>
<polyline stroke-width="8.88" points="404.9,1651.5 405.8,1649.7 406.7,1648.0 407.7,1646.2 408.6,1644.4 409.4,1642.6 410.3,1640.8 411.1,1639.0 412.0,1637.1"/>
<polyline stroke-width="8.55" points="412.0,1637.1 412.8,1635.3 413.6,1633.5 414.4,1631.6 415.2,1629.8 415.9,1628.0 416.7,1626.1 417.4,1624.2 418.2,1622.4"/>
<polyline stroke-width="8.32" points="418.2,1622.4 418.9,1620.5 419.6,1618.7 420.3,1616.8 421.0,1614.9 421.7,1613.0 422.3,1611.1 423.0,1609.2 423.6,1607.4"/>
<polyline stroke-width="8.15" points="423.6,1607.4 424.3,1605.5 424.9,1603.6 425.5,1601.7 426.1,1599.8 426.8,1597.8 427.3,1595.9 427.9,1594.0 428.5,1592.1"/>
<polyline stroke-width="8.02" points="428.5,1592.1 429.1,1590.2 429.6,1588.3 430.2,1586.3 430.8,1584.4 431.3,1582.5 431.8,1580.6 432.4,1578.6 432.9,1576.7"/>
<polyline stroke-width="7.93" points="432.9,1576.7 433.4,1574.8 433.9,1572.8 434.4,1570.9 434.9,1569.0 435.4,1567.0 435.9,1565.1 436.4,1563.2 436.9,1561.2"/>
<polyline stroke-width="7.88" points="436.9,1561.2 437.3,1559.3 437.8,1557.3 438.3,1555.4 438.8,1553.4 439.2,1551.5 439.7,1549.5 440.1,1547.6 440.6,1545.6"/>
<polyline stroke-width="7.85" points="440.6,1545.6 441.1,1543.7 441.5,1541.8 442.0,1539.8 442.4,1537.9 442.8,1535.9 443.3,1534.0 443.7,1532.0 444.2,1530.0"/>
<polyline stroke-width="7.83" points="444.2,1530.0 444.6,1528.1 445.0,1526.1 445.5,1524.2 445.9,1522.2 446.3,1520.3 446.8,1518.3 447.2,1516.4 447.6,1514.4"/>
<polyline stroke-width="7.80" points="447.6,1514.4 448.0,1512.5 448.5,1510.5 448.9,1508.6 449.3,1506.6 449.7,1504.6 450.1,1502.7 450.5,1500.7 451.0,1498.8"/>
<polyline stroke-width="7.78" points="451.0,1498.8 451.4,1496.8 451.8,1494.9 452.2,1492.9 452.6,1490.9 453.0,1489.0 453.4,1487.0 453.8,1485.1 454.2,1483.1"/>
<polyline stroke-width="7.76" points="454.2,1483.1 454.6,1481.1 455.0,1479.2 455.3,1477.2 455.7,1475.2 456.1,1473.3 456.5,1471.3 456.9,1469.4 457.3,1467.4"/>
<polyline stroke-width="7.74" points="457.3,1467.4 457.6,1465.4 458.0,1463.5 458.4,1461.5 458.8,1459.5 459.2,1457.6 459.5,1455.6 459.9,1453.6 460.3,1451.7"/>
<polyline stroke-width="7.73" points="460.3,1451.7 460.6,1449.7 461.0,1447.7 461.4,1445.8 461.7,1443.8 462.1,1441.8 462.4,1439.9 462.8,1437.9 463.2,1435.9"/>
<polyline stroke-width="7.71" points="463.2,1435.9 463.5,1434.0 463.9,1432.0 464.2,1430.0 464.6,1428.0 464.9,1426.1 465.3,1424.1 465.6,1422.1 465.9,1420.2"/>
<polyline stroke-width="7.70" points="465.9,1420.2 466.3,1418.2 466.6,1416.2 467.0,1414.3 467.3,1412.3 467.6,1410.3 468.0,1408.3 468.3,1406.4 468.6,1404.4"/>
<polyline stroke-width="7.69" points="468.6,1404.4 469.0,1402.4 469.3,1400.4 469.6,1398.5 470.0,1396.5 470.3,1394.5 470.6,1392.6 470.9,1390.6 471.3,1388.6"/>
<polyline stroke-width="7.68" points="471.3,1388.6 471.6,1386.6 471.9,1384.7 472.2,1382.7 472.5,1380.7 472.9,1378.7 473.2,1376.8 473.5,1374.8 473.8,1372.8"/>
<polyline stroke-width="7.66" points="473.8,1372.8 474.1,1370.8 474.4,1368.8 474.7,1366.9 475.0,1364.9 475.3,1362.9 475.6,1360.9 475.9,1359.0 476.2,1357.0"/>
<polyline stroke-width="7.65" points="476.2,1357.0 476.5,1355.0 476.9,1353.0 477.1,1351.1 477.4,1349.1 477.7,1347.1 478.0,1345.1 478.3,1343.1 478.6,1341.2"/>
<polyline stroke-width="7.65" points="478.6,1341.2 478.9,1339.2 479.2,1337.2 479.5,1335.2 479.8,1333.2 480.1,1331.3 480.4,1329.3 480.7,1327.3 480.9,1325.3"/>
<polyline stroke-width="7.64" points="480.9,1325.3 481.2,1323.3 481.5,1321.4 481.8,1319.4 482.1,1317.4 482.4,1315.4 482.6,1313.4 482.9,1311.5 483.2,1309.5"/>
<polyline stroke-width="7.63" points="483.2,1309.5 483.5,1307.5 483.7,1305.5 484.0,1303.5 484.3,1301.6 484.6,1299.6 484.8,1297.6 485.1,1295.6 485.4,1293.6"/>
<polyline stroke-width="7.62" points="485.4,1293.6 485.7,1291.6 485.9,1289.7 486.2,1287.7 486.5,1285.7 486.7,1283.7 487.0,1281.7 487.3,1279.7 487.5,1277.8"/>
<polyline stroke-width="7.62" points="487.5,1277.8 487.8,1275.8 488.0,1273.8 488.3,1271.8 488.6,1269.8 488.8,1267.8 489.1,1265.9 489.4,1263.9 489.6,1261.9"/>
<polyline stroke-width="7.61" points="489.6,1261.9 489.9,1259.9 490.1,1257.9 490.4,1255.9 490.6,1254.0 490.9,1252.0 491.1,1250.0 491.4,1248.0 491.7,1246.0"/>
<polyline stroke-width="7.61" points="491.7,1246.0 491.9,1244.0 492.2,1242.1 492.4,1240.1 492.7,1238.1 492.9,1236.1 493.2,1234.1 493.4,1232.1 493.7,1230.1"/>
<polyline stroke-width="7.61" points="493.7,1230.1 493.9,1228.2 494.2,1226.2 494.4,1224.2 494.7,1222.2 494.9,1220.2 495.1,1218.2 495.4,1216.2 495.6,1214.3"/>
<polyline stroke-width="7.60" points="495.6,1214.3 495.9,1212.3 496.1,1210.3 496.4,1208.3 496.6,1206.3 496.9,1204.3 497.1,1202.3 497.3,1200.4 497.6,1198.4"/>
<polyline stroke-width="7.60" points="497.6,1198.4 497.8,1196.4 498.1,1194.4 498.3,1192.4 498.5,1190.4 498.8,1188.4 499.0,1186.5 499.3,1184.5 499.5,1182.5"/>
<polyline stroke-width="7.60" points="499.5,1182.5 499.7,1180.5 500.0,1178.5 500.2,1176.5 500.4,1174.5 500.7,1172.6 500.9,1170.6 501.1,1168.6 501.4,1166.6"/>
<polyline stroke-width="7.59" points="501.4,1166.6 501.6,1164.6 501.8,1162.6 502.1,1160.6 502.3,1158.6 502.5,1156.7 502.8,1154.7 503.0,1152.7 503.2,1150.7"/>
<polyline stroke-width="7.59" points="503.2,1150.7 503.5,1148.7 503.7,1146.7 503.9,1144.7 504.1,1142.7 504.4,1140.8 504.6,1138.8 504.8,1136.8 505.1,1134.8"/>
<polyline stroke-width="7.59" points="505.1,1134.8 505.3,1132.8 505.5,1130.8 505.7,1128.8 506.0,1126.8 506.2,1124.9 506.4,1122.9 506.6,1120.9 506.9,1118.9"/>
<polyline stroke-width="7.59" points="506.9,1118.9 507.1,1116.9 507.3,1114.9 507.5,1112.9 507.8,1110.9 508.0,1109.0 508.2,1107.0 508.4,1105.0 508.6,1103.0"/>
<polyline stroke-width="7.58" points="508.6,1103.0 508.9,1101.0 509.1,1099.0 509.3,1097.0 509.5,1095.0 509.7,1093.0 510.0,1091.1 510.2,1089.1 510.4,1087.1"/>
<polyline stroke-width="7.58" points="510.4,1087.1 510.6,1085.1 510.8,1083.1 511.0,1081.1 511.3,1079.1 511.5,1077.1 511.7,1075.1 511.9,1073.2 512.1,1071.2"/>
<polyline stroke-width="7.58" points="512.1,1071.2 512.3,1069.2 512.6,1067.2 512.8,1065.2 513.0,1063.2 513.2,1061.2 513.4,1059.2 513.6,1057.2 513.8,1055.3"/>
<polyline stroke-width="7.58" points="513.8,1055.3 514.1,1053.3 514.3,1051.3 514.5,1049.3 514.7,1047.3 514.9,1045.3 515.1,1043.3 515.3,1041.3 515.5,1039.3"/>
<polyline stroke-width="7.58" points="515.5,1039.3 515.8,1037.4 516.0,1035.4 516.2,1033.4 516.4,1031.4 516.6,1029.4 516.8,1027.4 517.0,1025.4 517.2,1023.4"/>
<polyline stroke-width="7.58" points="517.2,1023.4 517.4,1021.4 517.6,1019.4 517.8,1017.5 518.1,1015.5 518.3,1013.5 518.5,1011.5 518.7,1009.5 518.9,1007.5"/>
<polyline stroke-width="7.57" points="518.9,1007.5 519.1,1005.5 519.3,1003.5 519.5,1001.5 519.7,999.6 519.9,997.6 520.1,995.6 520.3,993.6 520.5,991.6"/>
<polyline stroke-width="7.57" points="520.5,991.6 520.7,989.6 520.9,987.6 521.1,985.6 521.3,983.6 521.6,981.6 521.8,979.7 522.0,977.7 522.2,975.7"/>
<polyline stroke-width="7.57" points="522.2,975.7 522.4,973.7 522.6,971.7 522.8,969.7 523.0,967.7 523.2,965.7 523.4,963.7 523.6,961.7 523.8,959.7"/>
<polyline stroke-width="7.57" points="523.8,959.7 524.0,957.8 524.2,955.8 524.4,953.8 524.6,951.8 524.8,949.8 525.0,947.8 525.2,945.8 525.4,943.8"/>
<polyline stroke-width="7.57" points="525.4,943.8 525.6,941.8 525.8,939.8 526.0,937.9 526.2,935.9 526.4,933.9 526.6,931.9 526.8,929.9 527.0,927.9"/>
<polyline stroke-width="7.57" points="527.0,927.9 527.2,925.9 527.4,923.9 527.6,921.9 527.8,919.9 528.0,917.9 528.2,916.0 528.4,914.0 528.6,912.0"/>
<polyline stroke-width="7.57" points="528.6,912.0 528.8,910.0 529.0,908.0 529.2,906.0 529.4,904.0 529.6,902.0 529.8,900.0 530.0,898.0 530.2,896.1"/>
<polyline stroke-width="7.57" points="530.2,896.1 530.4,894.1 530.6,892.1 530.8,890.1 531.0,888.1 531.2,886.1 531.4,884.1 531.6,882.1 531.8,880.1"/>
<polyline stroke-width="7.57" points="531.8,880.1 532.0,878.1 532.2,876.1 532.3,874.2 532.5,872.2 532.7,870.2 532.9,868.2 533.1,866.2 533.3,864.2"/>
<polyline stroke-width="7.57" points="533.3,864.2 533.5,862.2 533.7,860.2 533.9,858.2 534.1,856.2 534.3,854.2 534.5,852.3 534.7,850.3 534.9,848.3"/>
<polyline stroke-width="7.57" points="534.9,848.3 535.1,846.3 535.3,844.3 535.5,842.3 535.7,840.3 535.9,838.3 536.1,836.3 536.3,834.3 536.5,832.3"/>
<polyline stroke-width="7.57" points="536.5,832.3 536.7,830.4 536.9,828.4 537.1,826.4 537.3,824.4 537.5,822.4 537.7,820.4 537.9,818.4 538.1,816.4"/>
<polyline stroke-width="7.57" points="538.1,816.4 538.3,814.4 538.5,812.4 538.7,810.4 538.9,808.5 539.1,806.5 539.2,804.5 539.4,802.5 539.6,800.5"/>
<polyline stroke-width="7.57" points="539.6,800.5 539.8,798.5 540.0,796.5 540.2,794.5 540.4,792.5 540.6,790.5 540.8,788.5 541.0,786.6 541.2,784.6"/>
<polyline stroke-width="7.57" points="541.2,784.6 541.4,782.6 541.6,780.6 541.8,778.6 542.0,776.6 542.2,774.6 542.4,772.6 542.6,770.6 542.8,768.6"/>
<polyline stroke-width="7.57" points="542.8,768.6 543.1,766.7 543.3,764.7 543.5,762.7 543.7,760.7 543.9,758.7 544.1,756.7 544.3,754.7 544.5,752.7"/>
<polyline stroke-width="7.57" points="544.5,752.7 544.7,750.7 544.9,748.7 545.1,746.8 545.3,744.8 545.5,742.8 545.7,740.8 545.9,738.8 546.1,736.8"/>
<polyline stroke-width="7.58" points="546.1,736.8 546.3,734.8 546.5,732.8 546.7,730.8 546.9,728.8 547.1,726.9 547.4,724.9 547.6,722.9 547.8,720.9"/>
<polyline stroke-width="7.58" points="547.8,720.9 548.0,718.9 548.2,716.9 548.4,714.9 548.6,712.9 548.8,710.9 549.0,708.9 549.2,707.0 549.5,705.0"/>
<polyline stroke-width="7.58" points="549.5,705.0 549.7,703.0 549.9,701.0 550.1,699.0 550.3,697.0 550.5,695.0 550.7,693.0 551.0,691.0 551.2,689.1"/>
<polyline stroke-width="7.58" points="551.2,689.1 551.4,687.1 551.6,685.1 551.8,683.1 552.0,681.1 552.3,679.1 552.5,677.1 552.7,675.1 552.9,673.1"/>
<polyline stroke-width="7.59" points="552.9,673.1 553.1,671.2 553.4,669.2 553.6,667.2 553.8,665.2 554.0,663.2 554.2,661.2 554.5,659.2 554.7,657.2"/>
<polyline stroke-width="7.59" points="554.7,657.2 554.9,655.3 555.1,653.3 555.4,651.3 555.6,649.3 555.8,647.3 556.0,645.3 556.3,643.3 556.5,641.3"/>
<polyline stroke-width="7.59" points="556.5,641.3 556.7,639.4 557.0,637.4 557.2,635.4 557.4,633.4 557.6,631.4 557.9,629.4 558.1,627.4 558.3,625.4"/>
<polyline stroke-width="7.60" points="558.3,625.4 558.6,623.5 558.8,621.5 559.0,619.5 559.3,617.5 559.5,615.5 559.8,613.5 560.0,611.5 560.2,609.6"/>
<polyline stroke-width="7.60" points="560.2,609.6 560.5,607.6 560.7,605.6 560.9,603.6 561.2,601.6 561.4,599.6 561.7,597.6 561.9,595.6 562.2,593.7"/>
<polyline stroke-width="7.61" points="562.2,593.7 562.4,591.7 562.6,589.7 562.9,587.7 563.1,585.7 563.4,583.7 563.6,581.8 563.9,579.8 564.1,577.8"/>
<polyline stroke-width="7.61" points="564.1,577.8 564.4,575.8 564.6,573.8 564.9,571.8 565.1,569.8 565.4,567.9 565.7,565.9 565.9,563.9 566.2,561.9"/>
<polyline stroke-width="7.62" points="566.2,561.9 566.4,559.9 566.7,557.9 566.9,556.0 567.2,554.0 567.5,552.0 567.7,550.0 568.0,548.0 568.2,546.0"/>
<polyline stroke-width="7.62" points="568.2,546.0 568.5,544.1 568.8,542.1 569.0,540.1 569.3,538.1 569.6,536.1 569.8,534.1 570.1,532.2 570.4,530.2"/>
<polyline stroke-width="7.63" points="570.4,530.2 570.7,528.2 570.9,526.2 571.2,524.2 571.5,522.2 571.7,520.3 572.0,518.3 572.3,516.3 572.6,514.3"/>
<polyline stroke-width="7.64" points="572.6,514.3 572.9,512.3 573.1,510.4 573.4,508.4 573.7,506.4 574.0,504.4 574.3,502.4 574.5,500.5 574.8,498.5"/>
<polyline stroke-width="7.65" points="574.8,498.5 575.1,496.5 575.4,494.5 575.7,492.5 576.0,490.6 576.3,488.6 576.6,486.6 576.8,484.6 577.1,482.6"/>
<polyline stroke-width="7.65" points="577.1,482.6 577.4,480.7 577.7,478.7 578.0,476.7 578.3,474.7 578.6,472.7 578.9,470.8 579.2,468.8 579.5,466.8"/>
<polyline stroke-width="7.66" points="579.5,466.8 579.8,464.8 580.1,462.9 580.4,460.9 580.7,458.9 581.0,456.9 581.3,454.9 581.6,453.0 581.9,451.0"/>
<polyline stroke-width="7.67" points="581.9,451.0 582.3,449.0 582.6,447.0 582.9,445.1 583.2,443.1 583.5,441.1 583.8,439.1 584.1,437.2 584.4,435.2"/>
<polyline stroke-width="7.68" points="584.4,435.2 584.8,433.2 585.1,431.2 585.4,429.3 585.7,427.3 586.0,425.3 586.3,423.3 586.7,421.4 587.0,419.4"/>
<polyline stroke-width="7.69" points="587.0,419.4 587.3,417.4 587.6,415.4 588.0,413.5 588.3,411.5 588.6,409.5 588.9,407.5 589.3,405.6 589.6,403.6"/>
<polyline stroke-width="7.70" points="589.6,403.6 589.9,401.6 590.3,399.7 590.6,397.7 590.9,395.7 591.3,393.7 591.6,391.8 592.0,389.8 592.3,387.8"/>
<polyline stroke-width="7.71" points="592.3,387.8 592.6,385.8 593.0,383.9 593.3,381.9 593.7,379.9 594.0,378.0 594.4,376.0 594.7,374.0 595.1,372.1"/>
<polyline stroke-width="7.75" points="595.1,372.1 595.5,370.1 595.8,368.1 596.2,366.2 596.6,364.2 597.0,362.2 597.3,360.3 597.7,358.3 598.1,356.4"/>
<polyline stroke-width="7.82" points="598.1,356.4 598.5,354.4 598.9,352.4 599.4,350.5 599.8,348.5 600.2,346.6 600.7,344.6 601.1,342.7 601.5,340.7"/>
<polyline stroke-width="7.92" points="601.5,340.7 602.0,338.8 602.5,336.8 602.9,334.9 603.4,332.9 603.9,331.0 604.4,329.1 604.9,327.1 605.5,325.2"/>
<polyline stroke-width="8.06" points="605.5,325.2 606.0,323.3 606.5,321.3 607.1,319.4 607.6,317.5 608.2,315.6 608.8,313.7 609.4,311.8 610.0,309.8"/>
<polyline stroke-width="8.32" points="610.0,309.8 610.6,307.9 611.2,306.0 611.9,304.1 612.5,302.3 613.2,300.4 613.9,298.5 614.7,296.7 615.5,294.8"/>
<polyline stroke-width="9.05" points="615.5,294.8 616.3,293.0 617.1,291.2 618.0,289.4 618.9,287.6 619.8,285.8 620.8,284.1 621.9,282.4 623.0,280.7"/>
<polyline stroke-width="10.58" points="623.0,280.7 624.1,279.1 625.3,277.4 626.5,275.9 627.8,274.3 629.1,272.8 630.5,271.4 632.0,270.1 633.5,268.8"/>
<polyline stroke-width="13.81" points="633.5,268.8 635.2,267.6 636.9,266.6 638.6,265.7 640.5,264.9 642.4,264.4 644.4,264.0 646.4,263.8 648.4,263.9"/>
<polyline stroke-width="13.38" points="648.4,263.9 650.4,264.1 652.3,264.4 654.2,265.0 656.1,265.7 657.9,266.6 659.6,267.6 661.2,268.8 662.7,270.1"/>
<polyline stroke-width="10.10" points="662.7,270.1 664.2,271.6 665.5,273.0 666.8,274.6 668.0,276.2 669.1,277.8 670.2,279.5 671.4,281.1 672.5,282.8"/>
<polyline stroke-width="9.71" points="672.5,282.8 673.6,284.5 674.7,286.1 675.8,287.8 676.9,289.4 678.1,291.1 679.2,292.7 680.3,294.4 681.5,296.0"/>
<polyline stroke-width="9.80" points="681.5,296.0 682.6,297.7 683.7,299.3 684.9,301.0 686.0,302.6 687.2,304.3 688.3,305.9 689.5,307.5 690.6,309.2"/>
<polyline stroke-width="9.90" points="690.6,309.2 691.8,310.8 692.9,312.4 694.1,314.0 695.3,315.7 696.5,317.3 697.6,318.9 698.8,320.5 700.0,322.1"/>
<polyline stroke-width="10.00" points="700.0,322.1 701.2,323.8 702.4,325.4 703.6,327.0 704.7,328.6 705.9,330.2 707.1,331.8 708.3,333.4 709.6,335.0"/>
<polyline stroke-width="10.10" points="709.6,335.0 710.8,336.6 712.0,338.2 713.2,339.7 714.4,341.3 715.6,342.9 716.9,344.5 718.1,346.1 719.3,347.7"/>
<polyline stroke-width="10.19" points="719.3,347.7 720.5,349.2 721.8,350.8 723.0,352.4 724.3,353.9 725.5,355.5 726.7,357.1 728.0,358.7 729.2,360.2"/>
<polyline stroke-width="10.19" points="729.2,360.2 730.5,361.8 731.7,363.4 733.0,364.9 734.2,366.5 735.4,368.1 736.7,369.6 737.9,371.2 739.1,372.8"/>
<polyline stroke-width="10.10" points="739.1,372.8 740.4,374.4 741.6,375.9 742.8,377.5 744.0,379.1 745.3,380.7 746.5,382.3 747.7,383.9 748.9,385.5"/>
<polyline stroke-width="9.92" points="748.9,385.5 750.1,387.1 751.3,388.7 752.5,390.3 753.6,391.9 754.8,393.5 756.0,395.2 757.1,396.8 758.3,398.4"/>
<polyline stroke-width="9.69" points="758.3,398.4 759.4,400.1 760.6,401.7 761.7,403.4 762.8,405.0 763.9,406.7 765.0,408.4 766.1,410.0 767.2,411.7"/>
<polyline stroke-width="9.54" points="767.2,411.7 768.3,413.4 769.4,415.1 770.5,416.7 771.6,418.4 772.7,420.1 773.7,421.8 774.8,423.5 775.9,425.2"/>
<polyline stroke-width="9.51" points="775.9,425.2 776.9,426.9 778.0,428.6 779.1,430.2 780.2,431.9 781.2,433.6 782.3,435.3 783.4,437.0 784.4,438.7"/>
<polyline stroke-width="9.50" points="784.4,438.7 785.5,440.4 786.6,442.1 787.7,443.8 788.7,445.4 789.8,447.1 790.9,448.8 791.9,450.5 793.0,452.2"/>
<polyline stroke-width="9.38" points="793.0,452.2 794.1,453.9 795.1,455.6 796.2,457.3 797.2,459.0 798.2,460.7 799.3,462.4 800.3,464.2 801.3,465.9"/>
<polyline stroke-width="9.14" points="801.3,465.9 802.3,467.6 803.3,469.4 804.3,471.1 805.3,472.8 806.2,474.6 807.2,476.4 808.1,478.1 809.1,479.9"/>
<polyline stroke-width="8.85" points="809.1,479.9 810.0,481.7 810.9,483.5 811.8,485.2 812.7,487.0 813.5,488.8 814.4,490.6 815.3,492.5 816.1,494.3"/>
<polyline stroke-width="8.63" points="816.1,494.3 816.9,496.1 817.8,497.9 818.6,499.7 819.4,501.6 820.2,503.4 821.0,505.2 821.7,507.1 822.5,508.9"/>
<polyline stroke-width="8.46" points="822.5,508.9 823.3,510.8 824.0,512.6 824.8,514.5 825.5,516.3 826.3,518.2 827.0,520.1 827.7,521.9 828.4,523.8"/>
<polyline stroke-width="8.34" points="828.4,523.8 829.1,525.7 829.9,527.5 830.6,529.4 831.2,531.3 831.9,533.2 832.6,535.0 833.3,536.9 834.0,538.8"/>
<polyline stroke-width="8.27" points="834.0,538.8 834.7,540.7 835.3,542.6 836.0,544.5 836.7,546.3 837.3,548.2 838.0,550.1 838.6,552.0 839.3,553.9"/>
<polyline stroke-width="8.24" points="839.3,553.9 840.0,555.8 840.6,557.7 841.3,559.6 841.9,561.5 842.6,563.4 843.2,565.3 843.9,567.1 844.5,569.0"/>
<polyline stroke-width="8.24" points="844.5,569.0 845.1,570.9 845.8,572.8 846.4,574.7 847.1,576.6 847.8,578.5 848.4,580.4 849.1,582.3 849.7,584.2"/>
<polyline stroke-width="8.25" points="849.7,584.2 850.4,586.1 851.0,587.9 851.7,589.8 852.3,591.7 853.0,593.6 853.6,595.5 854.3,597.4 855.0,599.3"/>
<polyline stroke-width="8.23" points="855.0,599.3 855.6,601.2 856.3,603.1 856.9,605.0 857.6,606.9 858.2,608.8 858.9,610.6 859.5,612.5 860.1,614.4"/>
<polyline stroke-width="8.19" points="860.1,614.4 860.8,616.3 861.4,618.2 862.0,620.1 862.7,622.0 863.3,623.9 863.9,625.8 864.6,627.7 865.2,629.6"/>
<polyline stroke-width="8.14" points="865.2,629.6 865.8,631.5 866.4,633.4 867.0,635.3 867.6,637.2 868.2,639.1 868.8,641.1 869.4,643.0 870.0,644.9"/>
<polyline stroke-width="8.09" points="870.0,644.9 870.6,646.8 871.2,648.7 871.8,650.6 872.4,652.5 872.9,654.4 873.5,656.4 874.1,658.3 874.7,660.2"/>
<polyline stroke-width="8.04" points="874.7,660.2 875.2,662.1 875.8,664.0 876.3,666.0 876.9,667.9 877.5,669.8 878.0,671.7 878.6,673.6 879.1,675.6"/>
<polyline stroke-width="8.00" points="879.1,675.6 879.7,677.5 880.2,679.4 880.7,681.3 881.3,683.3 881.8,685.2 882.3,687.1 882.9,689.1 883.4,691.0"/>
<polyline stroke-width="7.97" points="883.4,691.0 883.9,692.9 884.4,694.8 885.0,696.8 885.5,698.7 886.0,700.6 886.5,702.6 887.0,704.5 887.5,706.4"/>
<polyline stroke-width="7.94" points="887.5,706.4 888.1,708.4 888.6,710.3 889.1,712.3 889.6,714.2 890.1,716.1 890.6,718.1 891.1,720.0 891.6,721.9"/>
<polyline stroke-width="7.91" points="891.6,721.9 892.0,723.9 892.5,725.8 893.0,727.8 893.5,729.7 894.0,731.6 894.5,733.6 895.0,735.5 895.4,737.5"/>
<polyline stroke-width="7.89" points="895.4,737.5 895.9,739.4 896.4,741.3 896.9,743.3 897.4,745.2 897.8,747.2 898.3,749.1 898.8,751.1 899.2,753.0"/>
<polyline stroke-width="7.88" points="899.2,753.0 899.7,755.0 900.2,756.9 900.6,758.8 901.1,760.8 901.6,762.7 902.0,764.7 902.5,766.6 903.0,768.6"/>
<polyline stroke-width="7.86" points="903.0,768.6 903.4,770.5 903.9,772.5 904.3,774.4 904.8,776.4 905.2,778.3 905.7,780.3 906.2,782.2 906.6,784.2"/>
<polyline stroke-width="7.86" points="906.6,784.2 907.1,786.1 907.5,788.1 908.0,790.0 908.4,792.0 908.9,793.9 909.3,795.9 909.8,797.8 910.2,799.8"/>
<polyline stroke-width="7.85" points="910.2,799.8 910.7,801.7 911.1,803.6 911.6,805.6 912.0,807.5 912.5,809.5 912.9,811.4 913.3,813.4 913.8,815.3"/>
<polyline stroke-width="7.85" points="913.8,815.3 914.2,817.3 914.7,819.3 915.1,821.2 915.6,823.2 916.0,825.1 916.5,827.1 916.9,829.0 917.4,831.0"/>
<polyline stroke-width="7.85" points="917.4,831.0 917.8,832.9 918.2,834.9 918.7,836.8 919.1,838.8 919.6,840.7 920.0,842.7 920.5,844.6 920.9,846.6"/>
<polyline stroke-width="7.85" points="920.9,846.6 921.4,848.5 921.8,850.5 922.3,852.4 922.7,854.4 923.1,856.3 923.6,858.3 924.0,860.2 924.5,862.2"/>
<polyline stroke-width="7.85" points="924.5,862.2 924.9,864.1 925.4,866.1 925.8,868.0 926.3,870.0 926.7,871.9 927.2,873.9 927.6,875.8 928.1,877.8"/>
<polyline stroke-width="7.85" points="928.1,877.8 928.5,879.7 929.0,881.7 929.4,883.6 929.9,885.6 930.3,887.5 930.8,889.5 931.2,891.4 931.7,893.4"/>
<polyline stroke-width="7.86" points="931.7,893.4 932.1,895.3 932.6,897.2 933.0,899.2 933.5,901.1 933.9,903.1 934.4,905.0 934.8,907.0 935.3,908.9"/>
<polyline stroke-width="7.87" points="935.3,908.9 935.7,910.9 936.2,912.8 936.7,914.8 937.1,916.7 937.6,918.7 938.0,920.6 938.5,922.6 938.9,924.5"/>
<polyline stroke-width="7.87" points="938.9,924.5 939.4,926.5 939.9,928.4 940.3,930.4 940.8,932.3 941.3,934.3 941.7,936.2 942.2,938.1 942.6,940.1"/>
<polyline stroke-width="7.88" points="942.6,940.1 943.1,942.0 943.6,944.0 944.0,945.9 944.5,947.9 945.0,949.8 945.4,951.8 945.9,953.7 946.4,955.7"/>
<polyline stroke-width="7.89" points="946.4,955.7 946.9,957.6 947.3,959.5 947.8,961.5 948.3,963.4 948.7,965.4 949.2,967.3 949.7,969.3 950.2,971.2"/>
<polyline stroke-width="7.90" points="950.2,971.2 950.6,973.1 951.1,975.1 951.6,977.0 952.1,979.0 952.6,980.9 953.0,982.9 953.5,984.8 954.0,986.7"/>
<polyline stroke-width="7.92" points="954.0,986.7 954.5,988.7 955.0,990.6 955.5,992.6 956.0,994.5 956.5,996.4 956.9,998.4 957.4,1000.3 957.9,1002.3"/>
<polyline stroke-width="7.93" points="957.9,1002.3 958.4,1004.2 958.9,1006.1 959.4,1008.1 959.9,1010.0 960.4,1011.9 960.9,1013.9 961.4,1015.8 961.9,1017.8"/>
<polyline stroke-width="7.95" points="961.9,1017.8 962.4,1019.7 962.9,1021.6 963.4,1023.6 963.9,1025.5 964.4,1027.4 964.9,1029.4 965.4,1031.3 965.9,1033.2"/>
<polyline stroke-width="7.96" points="965.9,1033.2 966.4,1035.2 967.0,1037.1 967.5,1039.0 968.0,1041.0 968.5,1042.9 969.0,1044.9 969.5,1046.8 970.0,1048.7"/>
<polyline stroke-width="7.98" points="970.0,1048.7 970.6,1050.6 971.1,1052.6 971.6,1054.5 972.1,1056.4 972.6,1058.4 973.2,1060.3 973.7,1062.2 974.2,1064.2"/>
<polyline stroke-width="7.99" points="974.2,1064.2 974.7,1066.1 975.3,1068.0 975.8,1070.0 976.3,1071.9 976.9,1073.8 977.4,1075.7 977.9,1077.7 978.5,1079.6"/>
<polyline stroke-width="8.01" points="978.5,1079.6 979.0,1081.5 979.5,1083.5 980.1,1085.4 980.6,1087.3 981.2,1089.2 981.7,1091.2 982.2,1093.1 982.8,1095.0"/>
<polyline stroke-width="8.03" points="982.8,1095.0 983.3,1096.9 983.9,1098.9 984.4,1100.8 985.0,1102.7 985.5,1104.6 986.1,1106.6 986.6,1108.5 987.2,1110.4"/>
<polyline stroke-width="8.04" points="987.2,1110.4 987.7,1112.3 988.3,1114.2 988.8,1116.2 989.4,1118.1 989.9,1120.0 990.5,1121.9 991.1,1123.8 991.6,1125.8"/>
<polyline stroke-width="8.06" points="991.6,1125.8 992.2,1127.7 992.8,1129.6 993.3,1131.5 993.9,1133.4 994.5,1135.4 995.0,1137.3 995.6,1139.2 996.2,1141.1"/>
<polyline stroke-width="8.08" points="996.2,1141.1 996.7,1143.0 997.3,1145.0 997.9,1146.9 998.5,1148.8 999.0,1150.7 999.6,1152.6 1000.2,1154.5 1000.8,1156.4"/>
<polyline stroke-width="8.10" points="1000.8,1156.4 1001.4,1158.4 1001.9,1160.3 1002.5,1162.2 1003.1,1164.1 1003.7,1166.0 1004.3,1167.9 1004.9,1169.8 1005.5,1171.7"/>
<polyline stroke-width="8.12" points="1005.5,1171.7 1006.1,1173.7 1006.7,1175.6 1007.3,1177.5 1007.9,1179.4 1008.5,1181.3 1009.1,1183.2 1009.7,1185.1 1010.3,1187.0"/>
<polyline stroke-width="8.13" points="1010.3,1187.0 1010.9,1188.9 1011.5,1190.8 1012.1,1192.7 1012.7,1194.6 1013.3,1196.6 1013.9,1198.5 1014.5,1200.4 1015.1,1202.3"/>
<polyline stroke-width="8.14" points="1015.1,1202.3 1015.7,1204.2 1016.3,1206.1 1016.9,1208.0 1017.5,1209.9 1018.1,1211.8 1018.7,1213.7 1019.3,1215.6 1019.9,1217.5"/>
<polyline stroke-width="8.14" points="1019.9,1217.5 1020.5,1219.4 1021.1,1221.3 1021.7,1223.3 1022.3,1225.2 1022.9,1227.1 1023.5,1229.0 1024.1,1230.9 1024.7,1232.8"/>
<polyline stroke-width="8.15" points="1024.7,1232.8 1025.3,1234.7 1025.9,1236.6 1026.5,1238.5 1027.1,1240.4 1027.7,1242.3 1028.4,1244.2 1029.0,1246.1 1029.6,1248.0"/>
<polyline stroke-width="8.31" points="1029.6,1248.0 1030.2,1249.9 1030.9,1251.8 1031.5,1253.7 1032.2,1255.6 1032.9,1257.5 1033.6,1259.4 1034.3,1261.2 1035.0,1263.1"/>
<polyline stroke-width="8.70" points="1035.0,1263.1 1035.8,1264.9 1036.6,1266.8 1037.4,1268.6 1038.2,1270.4 1039.0,1272.3 1039.9,1274.1 1040.8,1275.9 1041.7,1277.6"/>
<polyline stroke-width="9.08" points="1041.7,1277.6 1042.6,1279.4 1043.5,1281.2 1044.4,1283.0 1045.4,1284.7 1046.3,1286.5 1047.3,1288.2 1048.3,1290.0 1049.3,1291.7"/>
<polyline stroke-width="9.25" points="1049.3,1291.7 1050.3,1293.5 1051.3,1295.2 1052.3,1296.9 1053.3,1298.7 1054.3,1300.4 1055.3,1302.1 1056.3,1303.9 1057.3,1305.6"/>
<polyline stroke-width="9.19" points="1057.3,1305.6 1058.3,1307.3 1059.3,1309.1 1060.3,1310.8 1061.3,1312.5 1062.2,1314.3 1063.2,1316.0 1064.2,1317.8 1065.1,1319.5"/>
<polyline stroke-width="9.02" points="1065.1,1319.5 1066.1,1321.3 1067.0,1323.1 1068.0,1324.8 1068.9,1326.6 1069.8,1328.4 1070.7,1330.1 1071.7,1331.9 1072.6,1333.7"/>
<polyline stroke-width="9.17" points="1072.6,1333.7 1073.5,1335.5 1074.5,1337.2 1075.4,1339.0 1076.4,1340.7 1077.4,1342.5 1078.4,1344.2 1079.4,1345.9 1080.4,1347.7"/>
<polyline stroke-width="9.80" points="1080.4,1347.7 1081.5,1349.4 1082.5,1351.0 1083.6,1352.7 1084.8,1354.4 1085.9,1356.0 1087.1,1357.6 1088.3,1359.2 1089.6,1360.8"/>
<polyline stroke-width="10.98" points="1089.6,1360.8 1090.9,1362.3 1092.2,1363.8 1093.5,1365.3 1094.9,1366.7 1096.4,1368.1 1097.8,1369.5 1099.3,1370.8 1100.8,1372.1"/>
<polyline stroke-width="11.48" points="1100.8,1372.1 1102.4,1373.4 1103.9,1374.7 1105.4,1376.0 1106.9,1377.3 1108.4,1378.6 1109.9,1379.9 1111.4,1381.3 1112.9,1382.6"/>
<polyline stroke-width="11.14" points="1112.9,1382.6 1114.4,1384.0 1115.8,1385.3 1117.3,1386.7 1118.7,1388.1 1120.1,1389.5 1121.6,1390.9 1123.0,1392.3 1124.4,1393.7"/>
<polyline stroke-width="11.13" points="1124.4,1393.7 1125.9,1395.1 1127.3,1396.5 1128.7,1397.9 1130.2,1399.3 1131.6,1400.7 1133.0,1402.1 1134.5,1403.4 1136.0,1404.8"/>
<polyline stroke-width="11.41" points="1136.0,1404.8 1137.4,1406.2 1138.9,1407.5 1140.4,1408.8 1141.9,1410.2 1143.4,1411.5 1144.9,1412.8 1146.4,1414.1 1147.9,1415.4"/>
<polyline stroke-width="11.56" points="1147.9,1415.4 1149.4,1416.7 1151.0,1418.0 1152.5,1419.3 1154.0,1420.6 1155.5,1421.9 1157.1,1423.2 1158.6,1424.5 1160.1,1425.8"/>
<polyline stroke-width="11.50" points="1160.1,1425.8 1161.6,1427.1 1163.1,1428.4 1164.7,1429.7 1166.2,1431.0 1167.7,1432.3 1169.2,1433.7 1170.7,1435.0 1172.2,1436.3"/>
<polyline stroke-width="11.55" points="1172.2,1436.3 1173.7,1437.6 1175.2,1438.9 1176.7,1440.2 1178.3,1441.5 1179.8,1442.8 1181.3,1444.1 1182.8,1445.4 1184.4,1446.7"/>
<polyline stroke-width="11.89" points="1184.4,1446.7 1185.9,1447.9 1187.5,1449.2 1189.1,1450.4 1190.6,1451.7 1192.2,1452.9 1193.8,1454.1 1195.4,1455.3 1197.1,1456.4"/>
<polyline stroke-width="12.49" points="1197.1,1456.4 1198.7,1457.6 1200.3,1458.7 1202.0,1459.8 1203.7,1460.9 1205.4,1462.0 1207.1,1463.0 1208.8,1464.0 1210.6,1465.0"/>
<polyline stroke-width="13.29" points="1210.6,1465.0 1212.3,1466.0 1214.1,1466.9 1215.9,1467.8 1217.7,1468.6 1219.5,1469.4 1221.4,1470.2 1223.2,1470.9 1225.1,1471.6"/>
<polyline stroke-width="13.96" points="1225.1,1471.6 1227.0,1472.3 1228.9,1472.9 1230.8,1473.5 1232.7,1474.1 1234.6,1474.7 1236.6,1475.2 1238.5,1475.6 1240.5,1476.1"/>
<polyline stroke-width="14.31" points="1240.5,1476.1 1242.4,1476.5 1244.4,1476.9 1246.4,1477.3 1248.3,1477.6 1250.3,1477.9 1252.3,1478.2 1254.3,1478.5 1256.3,1478.7"/>
<polyline stroke-width="14.46" points="1256.3,1478.7 1258.2,1478.9 1260.2,1479.1 1262.2,1479.3 1264.2,1479.5 1266.2,1479.6 1268.2,1479.7 1270.2,1479.8 1272.2,1479.9"/>
<polyline stroke-width="14.50" points="1272.2,1479.9 1274.2,1480.0 1276.2,1480.0 1278.2,1480.1 1280.2,1480.1 1282.2,1480.1 1284.2,1480.1 1286.2,1480.1 1288.2,1480.0"/>
<polyline stroke-width="14.48" points="1288.2,1480.0 1290.2,1480.0 1292.2,1479.9 1294.2,1479.8 1296.2,1479.7 1298.2,1479.6 1300.2,1479.5 1302.2,1479.4 1304.2,1479.2"/>
<polyline stroke-width="14.43" points="1304.2,1479.2 1306.2,1479.1 1308.2,1478.9 1310.2,1478.7 1312.2,1478.5 1314.2,1478.3 1316.1,1478.1 1318.1,1477.9 1320.1,1477.7"/>
<polyline stroke-width="14.38" points="1320.1,1477.7 1322.1,1477.4 1324.1,1477.2 1326.1,1476.9 1328.1,1476.7 1330.0,1476.4 1332.0,1476.1 1334.0,1475.9 1336.0,1475.6"/>
<polyline stroke-width="14.34" points="1336.0,1475.6 1338.0,1475.3 1339.9,1475.0 1341.9,1474.7 1343.9,1474.4 1345.9,1474.1 1347.9,1473.8 1349.8,1473.4 1351.8,1473.1"/>
<polyline stroke-width="14.31" points="1351.8,1473.1 1353.8,1472.8 1355.8,1472.5 1357.7,1472.1 1359.7,1471.8 1361.7,1471.5 1363.6,1471.2 1365.6,1470.8 1367.6,1470.5"/>
<polyline stroke-width="14.27" points="1367.6,1470.5 1369.6,1470.1 1371.5,1469.8 1373.5,1469.4 1375.5,1469.1 1377.4,1468.7 1379.4,1468.3 1381.4,1467.9 1383.3,1467.6"/>
<polyline stroke-width="14.16" points="1383.3,1467.6 1385.3,1467.2 1387.2,1466.7 1389.2,1466.3 1391.2,1465.9 1393.1,1465.4 1395.0,1465.0 1397.0,1464.5 1398.9,1464.0"/>
<polyline stroke-width="13.97" points="1398.9,1464.0 1400.9,1463.5 1402.8,1463.0 1404.7,1462.5 1406.7,1462.0 1408.6,1461.4 1410.5,1460.8 1412.4,1460.2 1414.3,1459.6"/>
<polyline stroke-width="13.73" points="1414.3,1459.6 1416.2,1459.0 1418.1,1458.4 1420.0,1457.7 1421.9,1457.1 1423.8,1456.4 1425.7,1455.7 1427.5,1455.0 1429.4,1454.3"/>
<polyline stroke-width="13.55" points="1429.4,1454.3 1431.3,1453.6 1433.2,1452.9 1435.0,1452.2 1436.9,1451.4 1438.7,1450.7 1440.6,1450.0 1442.4,1449.2 1444.3,1448.5"/>
<polyline stroke-width="13.47" points="1444.3,1448.5 1446.2,1447.7 1448.0,1446.9 1449.8,1446.2 1451.7,1445.4 1453.5,1444.6 1455.4,1443.8 1457.2,1443.1 1459.1,1442.3"/>
<polyline stroke-width="13.48" points="1459.1,1442.3 1460.9,1441.5 1462.8,1440.8 1464.6,1440.0 1466.5,1439.2 1468.3,1438.5 1470.2,1437.7 1472.0,1437.0 1473.9,1436.2"/>
<polyline stroke-width="13.53" points="1473.9,1436.2 1475.7,1435.5 1477.6,1434.7 1479.4,1434.0 1481.3,1433.2 1483.2,1432.5 1485.0,1431.7 1486.9,1431.0 1488.7,1430.2"/>
<polyline stroke-width="13.57" points="1488.7,1430.2 1490.6,1429.5 1492.4,1428.8 1494.3,1428.0 1496.2,1427.3 1498.0,1426.6 1499.9,1425.8 1501.8,1425.1 1503.6,1424.4"/>
<polyline stroke-width="13.59" points="1503.6,1424.4 1505.5,1423.7 1507.4,1422.9 1509.2,1422.2 1511.1,1421.5 1513.0,1420.8 1514.8,1420.1 1516.7,1419.3 1518.6,1418.6"/>
<polyline stroke-width="13.61" points="1518.6,1418.6 1520.4,1417.9 1522.3,1417.2 1524.2,1416.5 1526.0,1415.8 1527.9,1415.1 1529.8,1414.3 1531.6,1413.6 1533.5,1412.9"/>
<polyline stroke-width="13.61" points="1533.5,1412.9 1535.4,1412.2 1537.2,1411.5 1539.1,1410.8 1541.0,1410.1 1542.9,1409.4 1544.7,1408.7 1546.6,1407.9 1548.5,1407.2"/>
<polyline stroke-width="13.63" points="1548.5,1407.2 1550.3,1406.5 1552.2,1405.8 1554.1,1405.1 1555.9,1404.4 1557.8,1403.7 1559.7,1403.0 1561.6,1402.3 1563.4,1401.6"/>
<polyline stroke-width="13.70" points="1563.4,1401.6 1565.3,1400.9 1567.2,1400.2 1569.1,1399.5 1571.0,1398.8 1572.8,1398.2 1574.7,1397.5 1576.6,1396.8 1578.5,1396.2"/>
<polyline stroke-width="13.83" points="1578.5,1396.2 1580.4,1395.5 1582.3,1394.9 1584.2,1394.3 1586.1,1393.6 1588.0,1393.0 1589.9,1392.4 1591.8,1391.8 1593.7,1391.2"/>
<polyline stroke-width="14.00" points="1593.7,1391.2 1595.6,1390.6 1597.6,1390.1 1599.5,1389.5 1601.4,1389.0 1603.3,1388.5 1605.3,1387.9 1607.2,1387.4 1609.1,1387.0"/>
<polyline stroke-width="14.20" points="1609.1,1387.0 1611.1,1386.5 1613.0,1386.0 1615.0,1385.6 1616.9,1385.2 1618.9,1384.7 1620.9,1384.4 1622.8,1384.0 1624.8,1383.6"/>
<polyline stroke-width="14.38" points="1624.8,1383.6 1626.8,1383.3 1628.7,1383.0 1630.7,1382.7 1632.7,1382.4 1634.7,1382.2 1636.7,1381.9 1638.7,1381.7 1640.7,1381.5"/>
<polyline stroke-width="14.49" points="1640.7,1381.5 1642.7,1381.4 1644.6,1381.3 1646.6,1381.1 1648.6,1381.1 1650.6,1381.0 1652.6,1381.0 1654.6,1381.0 1656.6,1381.0"/>
<polyline stroke-width="14.46" points="1656.6,1381.0 1658.6,1381.0 1660.6,1381.1 1662.6,1381.2 1664.6,1381.3 1666.6,1381.5 1668.6,1381.7 1670.6,1381.9 1672.6,1382.1"/>
<polyline stroke-width="14.27" points="1672.6,1382.1 1674.6,1382.4 1676.6,1382.7 1678.5,1383.0 1680.5,1383.4 1682.5,1383.7 1684.4,1384.1 1686.4,1384.6 1688.3,1385.0"/>
<polyline stroke-width="13.94" points="1688.3,1385.0 1690.3,1385.5 1692.2,1386.0 1694.1,1386.5 1696.1,1387.1 1698.0,1387.7 1699.9,1388.3 1701.8,1388.9 1703.7,1389.5"/>
<polyline stroke-width="13.48" points="1703.7,1389.5 1705.6,1390.2 1707.4,1390.9 1709.3,1391.6 1711.2,1392.4 1713.0,1393.2 1714.8,1394.0 1716.7,1394.8 1718.5,1395.6"/>
<polyline stroke-width="12.88" points="1718.5,1395.6 1720.3,1396.5 1722.1,1397.4 1723.8,1398.3 1725.6,1399.3 1727.3,1400.3 1729.1,1401.3 1730.8,1402.3 1732.5,1403.3"/>
<polyline stroke-width="12.17" points="1732.5,1403.3 1734.2,1404.4 1735.9,1405.5 1737.5,1406.6 1739.2,1407.8 1740.8,1408.9 1742.4,1410.1 1744.0,1411.3 1745.6,1412.6"/>
<polyline stroke-width="11.45" points="1745.6,1412.6 1747.1,1413.8 1748.6,1415.1 1750.2,1416.4 1751.7,1417.7 1753.2,1419.0 1754.7,1420.4 1756.1,1421.8 1757.6,1423.1"/>
<polyline stroke-width="10.90" points="1757.6,1423.1 1759.0,1424.5 1760.4,1425.9 1761.8,1427.4 1763.2,1428.8 1764.6,1430.2 1766.0,1431.7 1767.4,1433.1 1768.7,1434.6"/>
<polyline stroke-width="10.56" points="1768.7,1434.6 1770.1,1436.1 1771.4,1437.6 1772.7,1439.1 1774.1,1440.6 1775.4,1442.1 1776.7,1443.6 1778.0,1445.1 1779.3,1446.6"/>
<polyline stroke-width="10.40" points="1779.3,1446.6 1780.6,1448.1 1781.9,1449.7 1783.2,1451.2 1784.5,1452.7 1785.7,1454.3 1787.0,1455.8 1788.3,1457.3 1789.6,1458.9"/>
<polyline stroke-width="10.41" points="1789.6,1458.9 1790.9,1460.4 1792.2,1461.9 1793.5,1463.5 1794.7,1465.0 1796.0,1466.5 1797.3,1468.1 1798.6,1469.6 1799.9,1471.1"/>
<polyline stroke-width="10.51" points="1799.9,1471.1 1801.2,1472.6 1802.5,1474.1 1803.8,1475.6 1805.1,1477.2 1806.5,1478.7 1807.8,1480.2 1809.1,1481.7 1810.4,1483.2"/>
<polyline stroke-width="10.63" points="1810.4,1483.2 1811.7,1484.7 1813.1,1486.2 1814.4,1487.7 1815.7,1489.2 1817.1,1490.6 1818.4,1492.1 1819.8,1493.6 1821.1,1495.1"/>
<polyline stroke-width="10.76" points="1821.1,1495.1 1822.5,1496.6 1823.8,1498.0 1825.2,1499.5 1826.5,1501.0 1827.9,1502.4 1829.3,1503.9 1830.7,1505.3 1832.0,1506.8"/>
<polyline stroke-width="10.92" points="1832.0,1506.8 1833.4,1508.2 1834.8,1509.7 1836.2,1511.1 1837.6,1512.5 1839.0,1514.0 1840.4,1515.4 1841.8,1516.8 1843.2,1518.2"/>
<polyline stroke-width="11.09" points="1843.2,1518.2 1844.6,1519.6 1846.1,1521.0 1847.5,1522.4 1848.9,1523.8 1850.4,1525.2 1851.8,1526.6 1853.2,1528.0 1854.7,1529.4"/>
<polyline stroke-width="11.28" points="1854.7,1529.4 1856.1,1530.8 1857.6,1532.1 1859.1,1533.5 1860.5,1534.9 1862.0,1536.2 1863.5,1537.6 1865.0,1538.9 1866.5,1540.2"/>
<polyline stroke-width="11.49" points="1866.5,1540.2 1867.9,1541.6 1869.4,1542.9 1870.9,1544.2 1872.5,1545.5 1874.0,1546.8 1875.5,1548.1 1877.0,1549.4 1878.5,1550.7"/>
<polyline stroke-width="11.72" points="1878.5,1550.7 1880.1,1552.0 1881.6,1553.3 1883.2,1554.6 1884.7,1555.8 1886.3,1557.1 1887.8,1558.3 1889.4,1559.6 1891.0,1560.8"/>
<polyline stroke-width="11.97" points="1891.0,1560.8 1892.5,1562.0 1894.1,1563.3 1895.7,1564.5 1897.3,1565.7 1898.9,1566.9 1900.5,1568.1 1902.1,1569.3 1903.8,1570.4"/>
<polyline stroke-width="12.24" points="1903.8,1570.4 1905.4,1571.6 1907.0,1572.8 1908.6,1573.9 1910.3,1575.1 1911.9,1576.2 1913.6,1577.3 1915.3,1578.4 1916.9,1579.5"/>
<polyline stroke-width="12.52" points="1916.9,1579.5 1918.6,1580.6 1920.3,1581.7 1922.0,1582.8 1923.7,1583.9 1925.3,1584.9 1927.1,1586.0 1928.8,1587.0 1930.5,1588.0"/>
<polyline stroke-width="12.82" points="1930.5,1588.0 1932.2,1589.0 1933.9,1590.1 1935.7,1591.1 1937.4,1592.0 1939.2,1593.0 1940.9,1594.0 1942.7,1594.9 1944.4,1595.9"/>
<polyline stroke-width="13.12" points="1944.4,1595.9 1946.2,1596.8 1948.0,1597.7 1949.8,1598.6 1951.6,1599.5 1953.4,1600.4 1955.2,1601.3 1957.0,1602.1 1958.8,1603.0"/>
<polyline stroke-width="13.39" points="1958.8,1603.0 1960.6,1603.8 1962.4,1604.6 1964.2,1605.4 1966.1,1606.2 1967.9,1607.0 1969.8,1607.8 1971.6,1608.6 1973.5,1609.3"/>
<polyline stroke-width="13.61" points="1973.5,1609.3 1975.3,1610.1 1977.2,1610.8 1979.0,1611.6 1980.9,1612.3 1982.8,1613.0 1984.6,1613.7 1986.5,1614.4 1988.4,1615.0"/>
<polyline stroke-width="13.80" points="1988.4,1615.0 1990.3,1615.7 1992.2,1616.4 1994.1,1617.0 1996.0,1617.7 1997.9,1618.3 1999.8,1618.9 2001.7,1619.5 2003.6,1620.1"/>
<polyline stroke-width="13.95" points="2003.6,1620.1 2005.5,1620.7 2007.4,1621.3 2009.3,1621.9 2011.2,1622.4 2013.2,1623.0 2015.1,1623.5 2017.0,1624.1 2018.9,1624.6"/>
<polyline stroke-width="14.07" points="2018.9,1624.6 2020.9,1625.1 2022.8,1625.6 2024.7,1626.1 2026.7,1626.6 2028.6,1627.1 2030.6,1627.6 2032.5,1628.1 2034.5,1628.6"/>
<polyline stroke-width="14.17" points="2034.5,1628.6 2036.4,1629.0 2038.3,1629.5 2040.3,1629.9 2042.3,1630.4 2044.2,1630.8 2046.2,1631.2 2048.1,1631.6 2050.1,1632.0"/>
<polyline stroke-width="14.24" points="2050.1,1632.0 2052.0,1632.5 2054.0,1632.9 2056.0,1633.2 2057.9,1633.6 2059.9,1634.0 2061.8,1634.4 2063.8,1634.7 2065.8,1635.1"/>
<polyline stroke-width="14.30" points="2065.8,1635.1 2067.7,1635.5 2069.7,1635.8 2071.7,1636.2 2073.7,1636.5 2075.6,1636.8 2077.6,1637.2 2079.6,1637.5 2081.6,1637.8"/>
<polyline stroke-width="14.35" points="2081.6,1637.8 2083.5,1638.1 2085.5,1638.4 2087.5,1638.7 2089.5,1639.0 2091.4,1639.3 2093.4,1639.6 2095.4,1639.9 2097.4,1640.2"/>
<polyline stroke-width="14.38" points="2097.4,1640.2 2099.4,1640.5 2101.3,1640.7 2103.3,1641.0 2105.3,1641.3 2107.3,1641.5 2109.3,1641.8 2111.3,1642.1 2113.2,1642.3"/>
<polyline stroke-width="14.40" points="2113.2,1642.3 2115.2,1642.6 2117.2,1642.8 2119.2,1643.0 2121.2,1643.3 2123.2,1643.5 2125.2,1643.7 2127.1,1644.0 2129.1,1644.2"/>
<polyline stroke-width="14.42" points="2129.1,1644.2 2131.1,1644.4 2133.1,1644.7 2135.1,1644.9 2137.1,1645.1 2139.1,1645.3 2141.1,1645.5 2143.1,1645.7 2145.0,1645.9"/>
<polyline stroke-width="14.43" points="2145.0,1645.9 2147.0,1646.2 2149.0,1646.4 2151.0,1646.6 2153.0,1646.8 2155.0,1647.0 2157.0,1647.2 2159.0,1647.4 2161.0,1647.6"/>
<polyline stroke-width="14.43" points="2161.0,1647.6 2163.0,1647.8 2164.9,1648.0 2166.9,1648.2 2168.9,1648.4 2170.9,1648.6 2172.9,1648.8 2174.9,1649.0 2176.9,1649.1"/>
<polyline stroke-width="14.43" points="2176.9,1649.1 2178.9,1649.3 2180.9,1649.5 2182.9,1649.7 2184.9,1649.9 2186.8,1650.1 2188.8,1650.3 2190.8,1650.5 2192.8,1650.7"/>
<polyline stroke-width="14.43" points="2192.8,1650.7 2194.8,1650.9 2196.8,1651.1"/>
</g>
<polygon fill="#008000" points="613.4,286.2 618.9,267.3 621.1,263.9 624.5,261.2 632.3,256.1 635.0,256.0 640.1,259.0 646.2,251.0 661.8,251.0 663.0,266.0 669.6,268.0 677.9,275.0 683.5,286.2 683.5,296.0 677.9,298.0 669.6,295.0 662.3,285.0 655.6,284.0 643.4,283.0 634.5,283.0 626.2,286.2 618.4,298.0"/>
<g fill="none" stroke="#0000ff" stroke-linejoin="round" stroke-linecap="round">
<polyline stroke-width="14.47" points="371.0,1682.9 373.0,1683.0 375.0,1682.9 377.0,1682.9 379.0,1682.7 381.0,1682.6 383.0,1682.4 385.0,1682.1 387.0,1681.8"/>
<polyline stroke-width="14.12" points="387.0,1681.8 388.9,1681.5 390.9,1681.1 392.9,1680.7 394.8,1680.3 396.7,1679.8 398.7,1679.3 400.6,1678.7 402.5,1678.1"/>
<polyline stroke-width="13.57" points="402.5,1678.1 404.4,1677.5 406.3,1676.9 408.2,1676.2 410.1,1675.5 411.9,1674.7 413.8,1673.9 415.6,1673.1 417.4,1672.3"/>
<polyline stroke-width="12.90" points="417.4,1672.3 419.2,1671.4 421.0,1670.5 422.8,1669.6 424.5,1668.7 426.3,1667.7 428.0,1666.7 429.7,1665.7 431.5,1664.7"/>
<polyline stroke-width="12.18" points="431.5,1664.7 433.1,1663.6 434.8,1662.5 436.5,1661.4 438.1,1660.2 439.7,1659.1 441.4,1657.9 443.0,1656.7 444.5,1655.4"/>
<polyline stroke-width="11.48" points="444.5,1655.4 446.1,1654.2 447.6,1652.9 449.2,1651.6 450.7,1650.3 452.2,1649.0 453.7,1647.7 455.1,1646.3 456.6,1644.9"/>
<polyline stroke-width="10.85" points="456.6,1644.9 458.0,1643.5 459.5,1642.1 460.9,1640.7 462.3,1639.3 463.6,1637.8 465.0,1636.4 466.3,1634.9 467.7,1633.4"/>
<polyline stroke-width="10.32" points="467.7,1633.4 469.0,1631.9 470.3,1630.4 471.6,1628.8 472.9,1627.3 474.1,1625.7 475.4,1624.2 476.6,1622.6 477.8,1621.0"/>
<polyline stroke-width="9.89" points="477.8,1621.0 479.0,1619.4 480.2,1617.8 481.4,1616.2 482.6,1614.6 483.8,1613.0 484.9,1611.3 486.1,1609.7 487.2,1608.0"/>
<polyline stroke-width="9.47" points="487.2,1608.0 488.3,1606.4 489.4,1604.7 490.5,1603.0 491.5,1601.3 492.6,1599.6 493.6,1597.9 494.7,1596.2 495.7,1594.5"/>
<polyline stroke-width="9.02" points="495.7,1594.5 496.7,1592.7 497.6,1591.0 498.6,1589.2 499.5,1587.5 500.5,1585.7 501.4,1583.9 502.3,1582.1 503.1,1580.3"/>
<polyline stroke-width="8.56" points="503.1,1580.3 504.0,1578.5 504.8,1576.7 505.6,1574.9 506.4,1573.0 507.2,1571.2 507.9,1569.3 508.6,1567.5 509.3,1565.6"/>
<polyline stroke-width="8.11" points="509.3,1565.6 510.0,1563.7 510.7,1561.8 511.3,1559.9 511.9,1558.0 512.5,1556.1 513.1,1554.2 513.6,1552.2 514.1,1550.3"/>
<polyline stroke-width="7.77" points="514.1,1550.3 514.6,1548.4 515.0,1546.4 515.4,1544.5 515.8,1542.5 516.2,1540.5 516.6,1538.6 516.9,1536.6 517.2,1534.6"/>
<polyline stroke-width="7.66" points="517.2,1534.6 517.5,1532.6 517.8,1530.7 518.1,1528.7 518.4,1526.7 518.7,1524.7 519.0,1522.7 519.3,1520.8 519.6,1518.8"/>
<polyline stroke-width="7.79" points="519.6,1518.8 520.0,1516.8 520.3,1514.9 520.7,1512.9 521.1,1510.9 521.5,1509.0 521.9,1507.0 522.4,1505.1 522.9,1503.1"/>
<polyline stroke-width="8.05" points="522.9,1503.1 523.4,1501.2 523.9,1499.3 524.4,1497.3 525.0,1495.4 525.6,1493.5 526.1,1491.6 526.7,1489.7 527.3,1487.8"/>
<polyline stroke-width="8.14" points="527.3,1487.8 527.9,1485.9 528.5,1484.0 529.2,1482.0 529.8,1480.1 530.4,1478.2 531.0,1476.3 531.6,1474.4 532.2,1472.5"/>
<polyline stroke-width="8.07" points="532.2,1472.5 532.8,1470.6 533.3,1468.7 533.9,1466.8 534.5,1464.9 535.1,1462.9 535.6,1461.0 536.2,1459.1 536.7,1457.2"/>
<polyline stroke-width="8.00" points="536.7,1457.2 537.3,1455.3 537.8,1453.3 538.4,1451.4 538.9,1449.5 539.5,1447.5 540.0,1445.6 540.5,1443.7 541.0,1441.8"/>
<polyline stroke-width="7.95" points="541.0,1441.8 541.6,1439.8 542.1,1437.9 542.6,1436.0 543.1,1434.0 543.6,1432.1 544.1,1430.2 544.6,1428.2 545.1,1426.3"/>
<polyline stroke-width="7.90" points="545.1,1426.3 545.6,1424.3 546.1,1422.4 546.6,1420.5 547.0,1418.5 547.5,1416.6 548.0,1414.6 548.5,1412.7 548.9,1410.7"/>
<polyline stroke-width="7.86" points="548.9,1410.7 549.4,1408.8 549.9,1406.8 550.3,1404.9 550.8,1403.0 551.2,1401.0 551.7,1399.1 552.1,1397.1 552.6,1395.2"/>
<polyline stroke-width="7.83" points="552.6,1395.2 553.0,1393.2 553.4,1391.3 553.9,1389.3 554.3,1387.3 554.7,1385.4 555.2,1383.4 555.6,1381.5 556.0,1379.5"/>
<polyline stroke-width="7.79" points="556.0,1379.5 556.4,1377.6 556.9,1375.6 557.3,1373.7 557.7,1371.7 558.1,1369.7 558.5,1367.8 558.9,1365.8 559.3,1363.9"/>
<polyline stroke-width="7.76" points="559.3,1363.9 559.7,1361.9 560.1,1359.9 560.5,1358.0 560.9,1356.0 561.2,1354.1 561.6,1352.1 562.0,1350.1 562.4,1348.2"/>
<polyline stroke-width="7.74" points="562.4,1348.2 562.8,1346.2 563.1,1344.2 563.5,1342.3 563.9,1340.3 564.3,1338.3 564.6,1336.4 565.0,1334.4 565.4,1332.4"/>
<polyline stroke-width="7.72" points="565.4,1332.4 565.7,1330.5 566.1,1328.5 566.4,1326.5 566.8,1324.6 567.1,1322.6 567.5,1320.6 567.8,1318.6 568.2,1316.7"/>
<polyline stroke-width="7.70" points="568.2,1316.7 568.5,1314.7 568.9,1312.7 569.2,1310.8 569.5,1308.8 569.9,1306.8 570.2,1304.8 570.5,1302.9 570.9,1300.9"/>
<polyline stroke-width="7.68" points="570.9,1300.9 571.2,1298.9 571.5,1297.0 571.8,1295.0 572.2,1293.0 572.5,1291.0 572.8,1289.1 573.1,1287.1 573.4,1285.1"/>
<polyline stroke-width="7.67" points="573.4,1285.1 573.7,1283.1 574.1,1281.2 574.4,1279.2 574.7,1277.2 575.0,1275.2 575.3,1273.3 575.6,1271.3 575.9,1269.3"/>
<polyline stroke-width="7.66" points="575.9,1269.3 576.2,1267.3 576.5,1265.3 576.8,1263.4 577.1,1261.4 577.4,1259.4 577.7,1257.4 578.0,1255.5 578.3,1253.5"/>
<polyline stroke-width="7.65" points="578.3,1253.5 578.6,1251.5 578.9,1249.5 579.2,1247.5 579.5,1245.6 579.7,1243.6 580.0,1241.6 580.3,1239.6 580.6,1237.6"/>
<polyline stroke-width="7.64" points="580.6,1237.6 580.9,1235.7 581.2,1233.7 581.5,1231.7 581.7,1229.7 582.0,1227.7 582.3,1225.8 582.6,1223.8 582.9,1221.8"/>
<polyline stroke-width="7.63" points="582.9,1221.8 583.1,1219.8 583.4,1217.8 583.7,1215.8 584.0,1213.9 584.2,1211.9 584.5,1209.9 584.8,1207.9 585.1,1205.9"/>
<polyline stroke-width="7.63" points="585.1,1205.9 585.3,1204.0 585.6,1202.0 585.9,1200.0 586.1,1198.0 586.4,1196.0 586.7,1194.0 586.9,1192.1 587.2,1190.1"/>
<polyline stroke-width="7.62" points="587.2,1190.1 587.5,1188.1 587.8,1186.1 588.0,1184.1 588.3,1182.2 588.6,1180.2 588.8,1178.2 589.1,1176.2 589.4,1174.2"/>
<polyline stroke-width="7.62" points="589.4,1174.2 589.6,1172.2 589.9,1170.3 590.2,1168.3 590.4,1166.3 590.7,1164.3 591.0,1162.3 591.2,1160.3 591.5,1158.4"/>
<polyline stroke-width="7.62" points="591.5,1158.4 591.7,1156.4 592.0,1154.4 592.3,1152.4 592.5,1150.4 592.8,1148.4 593.1,1146.5 593.3,1144.5 593.6,1142.5"/>
<polyline stroke-width="7.63" points="593.6,1142.5 593.9,1140.5 594.1,1138.5 594.4,1136.5 594.7,1134.6 594.9,1132.6 595.2,1130.6 595.5,1128.6 595.8,1126.6"/>
<polyline stroke-width="7.63" points="595.8,1126.6 596.0,1124.7 596.3,1122.7 596.6,1120.7 596.8,1118.7 597.1,1116.7 597.4,1114.7 597.7,1112.8 597.9,1110.8"/>
<polyline stroke-width="7.63" points="597.9,1110.8 598.2,1108.8 598.5,1106.8 598.7,1104.8 599.0,1102.9 599.3,1100.9 599.6,1098.9 599.9,1096.9 600.1,1094.9"/>
<polyline stroke-width="7.64" points="600.1,1094.9 600.4,1092.9 600.7,1091.0 601.0,1089.0 601.3,1087.0 601.5,1085.0 601.8,1083.0 602.1,1081.1 602.4,1079.1"/>
<polyline stroke-width="7.64" points="602.4,1079.1 602.7,1077.1 603.0,1075.1 603.2,1073.1 603.5,1071.2 603.8,1069.2 604.1,1067.2 604.4,1065.2 604.7,1063.2"/>
<polyline stroke-width="7.65" points="604.7,1063.2 605.0,1061.3 605.3,1059.3 605.6,1057.3 605.9,1055.3 606.2,1053.4 606.4,1051.4 606.7,1049.4 607.0,1047.4"/>
<polyline stroke-width="7.66" points="607.0,1047.4 607.3,1045.4 607.6,1043.5 607.9,1041.5 608.2,1039.5 608.6,1037.5 608.9,1035.6 609.2,1033.6 609.5,1031.6"/>
<polyline stroke-width="7.67" points="609.5,1031.6 609.8,1029.6 610.1,1027.6 610.4,1025.7 610.7,1023.7 611.0,1021.7 611.3,1019.7 611.6,1017.8 612.0,1015.8"/>
<polyline stroke-width="7.68" points="612.0,1015.8 612.3,1013.8 612.6,1011.8 612.9,1009.9 613.2,1007.9 613.5,1005.9 613.9,1003.9 614.2,1002.0 614.5,1000.0"/>
<polyline stroke-width="7.68" points="614.5,1000.0 614.8,998.0 615.1,996.0 615.5,994.1 615.8,992.1 616.1,990.1 616.4,988.1 616.7,986.2 617.1,984.2"/>
<polyline stroke-width="7.68" points="617.1,984.2 617.4,982.2 617.7,980.2 618.0,978.3 618.4,976.3 618.7,974.3 619.0,972.3 619.3,970.4 619.6,968.4"/>
<polyline stroke-width="7.68" points="619.6,968.4 620.0,966.4 620.3,964.4 620.6,962.5 620.9,960.5 621.3,958.5 621.6,956.6 621.9,954.6 622.2,952.6"/>
<polyline stroke-width="7.68" points="622.2,952.6 622.5,950.6 622.9,948.7 623.2,946.7 623.5,944.7 623.8,942.7 624.1,940.8 624.5,938.8 624.8,936.8"/>
<polyline stroke-width="7.68" points="624.8,936.8 625.1,934.8 625.4,932.9 625.8,930.9 626.1,928.9 626.4,926.9 626.7,925.0 627.0,923.0 627.4,921.0"/>
<polyline stroke-width="7.68" points="627.4,921.0 627.7,919.0 628.0,917.1 628.3,915.1 628.7,913.1 629.0,911.1 629.3,909.2 629.6,907.2 629.9,905.2"/>
<polyline stroke-width="7.68" points="629.9,905.2 630.3,903.2 630.6,901.3 630.9,899.3 631.2,897.3 631.6,895.3 631.9,893.4 632.2,891.4 632.5,889.4"/>
<polyline stroke-width="7.69" points="632.5,889.4 632.9,887.5 633.2,885.5 633.5,883.5 633.8,881.5 634.2,879.6 634.5,877.6 634.8,875.6 635.1,873.6"/>
<polyline stroke-width="7.69" points="635.1,873.6 635.5,871.7 635.8,869.7 636.1,867.7 636.5,865.7 636.8,863.8 637.1,861.8 637.4,859.8 637.8,857.8"/>
<polyline stroke-width="7.69" points="637.8,857.8 638.1,855.9 638.4,853.9 638.7,851.9 639.1,850.0 639.4,848.0 639.7,846.0 640.1,844.0 640.4,842.1"/>
<polyline stroke-width="7.69" points="640.4,842.1 640.7,840.1 641.1,838.1 641.4,836.1 641.7,834.2 642.1,832.2 642.4,830.2 642.7,828.3 643.0,826.3"/>
<polyline stroke-width="7.70" points="643.0,826.3 643.4,824.3 643.7,822.3 644.0,820.4 644.4,818.4 644.7,816.4 645.1,814.4 645.4,812.5 645.7,810.5"/>
<polyline stroke-width="7.70" points="645.7,810.5 646.1,808.5 646.4,806.6 646.7,804.6 647.1,802.6 647.4,800.6 647.8,798.7 648.1,796.7 648.4,794.7"/>
<polyline stroke-width="7.72" points="648.4,794.7 648.8,792.8 649.1,790.8 649.5,788.8 649.8,786.8 650.2,784.9 650.5,782.9 650.9,780.9 651.3,779.0"/>
<polyline stroke-width="7.73" points="651.3,779.0 651.6,777.0 652.0,775.0 652.3,773.1 652.7,771.1 653.1,769.1 653.4,767.2 653.8,765.2 654.2,763.2"/>
<polyline stroke-width="7.76" points="654.2,763.2 654.6,761.3 654.9,759.3 655.3,757.3 655.7,755.4 656.1,753.4 656.5,751.5 656.9,749.5 657.3,747.5"/>
<polyline stroke-width="7.79" points="657.3,747.5 657.7,745.6 658.1,743.6 658.5,741.7 658.9,739.7 659.3,737.7 659.7,735.8 660.1,733.8 660.5,731.9"/>
<polyline stroke-width="7.83" points="660.5,731.9 660.9,729.9 661.4,728.0 661.8,726.0 662.2,724.1 662.7,722.1 663.1,720.1 663.6,718.2 664.0,716.2"/>
<polyline stroke-width="7.88" points="664.0,716.2 664.5,714.3 664.9,712.4 665.4,710.4 665.9,708.5 666.3,706.5 666.8,704.6 667.3,702.6 667.8,700.7"/>
<polyline stroke-width="7.95" points="667.8,700.7 668.3,698.8 668.7,696.8 669.2,694.9 669.8,692.9 670.3,691.0 670.8,689.1 671.3,687.1 671.8,685.2"/>
<polyline stroke-width="8.02" points="671.8,685.2 672.3,683.3 672.9,681.4 673.4,679.4 674.0,677.5 674.5,675.6 675.1,673.7 675.6,671.7 676.2,669.8"/>
<polyline stroke-width="8.11" points="676.2,669.8 676.8,667.9 677.3,666.0 677.9,664.1 678.5,662.2 679.1,660.2 679.7,658.3 680.3,656.4 680.9,654.5"/>
<polyline stroke-width="8.21" points="680.9,654.5 681.5,652.6 682.2,650.7 682.8,648.8 683.4,646.9 684.1,645.0 684.7,643.1 685.4,641.2 686.0,639.4"/>
<polyline stroke-width="8.34" points="686.0,639.4 686.7,637.5 687.4,635.6 688.0,633.7 688.7,631.8 689.4,630.0 690.1,628.1 690.8,626.2 691.6,624.3"/>
<polyline stroke-width="8.49" points="691.6,624.3 692.3,622.5 693.0,620.6 693.7,618.8 694.5,616.9 695.2,615.0 696.0,613.2 696.8,611.3 697.6,609.5"/>
<polyline stroke-width="8.77" points="697.6,609.5 698.4,607.7 699.2,605.8 700.0,604.0 700.8,602.2 701.7,600.4 702.6,598.6 703.5,596.8 704.4,595.0"/>
<polyline stroke-width="9.31" points="704.4,595.0 705.3,593.3 706.3,591.5 707.3,589.8 708.3,588.0 709.3,586.3 710.3,584.6 711.4,582.9 712.5,581.3"/>
<polyline stroke-width="10.17" points="712.5,581.3 713.6,579.6 714.8,578.0 716.0,576.4 717.2,574.8 718.5,573.2 719.7,571.7 721.0,570.2 722.4,568.7"/>
<polyline stroke-width="11.34" points="722.4,568.7 723.8,567.2 725.2,565.8 726.6,564.4 728.1,563.0 729.6,561.7 731.1,560.4 732.6,559.2 734.2,557.9"/>
<polyline stroke-width="12.66" points="734.2,557.9 735.8,556.8 737.5,555.6 739.2,554.5 740.9,553.5 742.6,552.5 744.3,551.5 746.1,550.6 747.9,549.8"/>
<polyline stroke-width="13.93" points="747.9,549.8 749.8,549.0 751.6,548.2 753.5,547.5 755.4,546.9 757.3,546.4 759.3,545.9 761.2,545.5 763.2,545.2"/>
<polyline stroke-width="14.50" points="763.2,545.2 765.2,545.0 767.2,544.8 769.2,544.8 771.2,544.8 773.2,544.9 775.2,545.0 777.2,545.3 779.2,545.6"/>
<polyline stroke-width="13.81" points="779.2,545.6 781.1,546.0 783.1,546.4 785.0,547.0 786.9,547.6 788.8,548.2 790.7,549.0 792.5,549.8 794.3,550.6"/>
<polyline stroke-width="12.39" points="794.3,550.6 796.1,551.5 797.8,552.5 799.6,553.5 801.2,554.6 802.9,555.7 804.5,556.9 806.1,558.1 807.6,559.4"/>
<polyline stroke-width="10.79" points="807.6,559.4 809.1,560.7 810.6,562.0 812.0,563.5 813.4,564.9 814.8,566.4 816.1,567.9 817.3,569.4 818.6,571.0"/>
<polyline stroke-width="9.74" points="818.6,571.0 819.8,572.6 821.0,574.2 822.1,575.8 823.3,577.5 824.4,579.1 825.5,580.8 826.6,582.5 827.6,584.2"/>
<polyline stroke-width="9.32" points="827.6,584.2 828.7,585.9 829.8,587.6 830.8,589.3 831.8,591.0 832.8,592.7 833.8,594.5 834.8,596.2 835.8,598.0"/>
<polyline stroke-width="9.00" points="835.8,598.0 836.8,599.7 837.7,601.5 838.7,603.2 839.6,605.0 840.5,606.8 841.4,608.6 842.3,610.3 843.2,612.1"/>
<polyline stroke-width="8.73" points="843.2,612.1 844.1,613.9 845.0,615.7 845.8,617.6 846.6,619.4 847.5,621.2 848.3,623.0 849.1,624.8 849.9,626.7"/>
<polyline stroke-width="8.50" points="849.9,626.7 850.7,628.5 851.5,630.3 852.3,632.2 853.0,634.0 853.8,635.9 854.5,637.8 855.2,639.6 856.0,641.5"/>
<polyline stroke-width="8.30" points="856.0,641.5 856.7,643.4 857.4,645.2 858.1,647.1 858.7,649.0 859.4,650.9 860.1,652.8 860.7,654.6 861.4,656.5"/>
<polyline stroke-width="8.16" points="861.4,656.5 862.0,658.4 862.7,660.3 863.3,662.2 863.9,664.1 864.5,666.0 865.1,667.9 865.7,669.9 866.3,671.8"/>
<polyline stroke-width="8.08" points="866.3,671.8 866.9,673.7 867.5,675.6 868.1,677.5 868.6,679.4 869.2,681.3 869.8,683.3 870.3,685.2 870.9,687.1"/>
<polyline stroke-width="8.03" points="870.9,687.1 871.5,689.0 872.0,690.9 872.6,692.9 873.1,694.8 873.7,696.7 874.2,698.6 874.8,700.6 875.3,702.5"/>
<polyline stroke-width="8.03" points="875.3,702.5 875.9,704.4 876.4,706.3 877.0,708.3 877.5,710.2 878.1,712.1 878.6,714.0 879.2,715.9 879.7,717.9"/>
<polyline stroke-width="8.03" points="879.7,717.9 880.3,719.8 880.8,721.7 881.4,723.6 881.9,725.6 882.5,727.5 883.0,729.4 883.6,731.3 884.1,733.2"/>
<polyline stroke-width="8.02" points="884.1,733.2 884.7,735.2 885.2,737.1 885.8,739.0 886.3,740.9 886.9,742.9 887.4,744.8 888.0,746.7 888.5,748.7"/>
<polyline stroke-width="7.98" points="888.5,748.7 889.0,750.6 889.6,752.5 890.1,754.4 890.6,756.4 891.1,758.3 891.7,760.2 892.2,762.2 892.7,764.1"/>
<polyline stroke-width="7.93" points="892.7,764.1 893.2,766.0 893.7,768.0 894.2,769.9 894.7,771.8 895.2,773.8 895.7,775.7 896.2,777.7 896.6,779.6"/>
<polyline stroke-width="7.88" points="896.6,779.6 897.1,781.5 897.6,783.5 898.1,785.4 898.5,787.4 899.0,789.3 899.5,791.3 899.9,793.2 900.4,795.2"/>
<polyline stroke-width="7.85" points="900.4,795.2 900.8,797.1 901.3,799.1 901.7,801.0 902.2,803.0 902.6,804.9 903.1,806.9 903.5,808.8 904.0,810.8"/>
<polyline stroke-width="7.83" points="904.0,810.8 904.4,812.7 904.8,814.7 905.3,816.6 905.7,818.6 906.1,820.5 906.6,822.5 907.0,824.4 907.4,826.4"/>
<polyline stroke-width="7.82" points="907.4,826.4 907.9,828.3 908.3,830.3 908.7,832.2 909.1,834.2 909.6,836.2 910.0,838.1 910.4,840.1 910.8,842.0"/>
<polyline stroke-width="7.81" points="910.8,842.0 911.3,844.0 911.7,845.9 912.1,847.9 912.5,849.8 912.9,851.8 913.4,853.8 913.8,855.7 914.2,857.7"/>
<polyline stroke-width="7.81" points="914.2,857.7 914.6,859.6 915.0,861.6 915.5,863.5 915.9,865.5 916.3,867.4 916.7,869.4 917.1,871.4 917.6,873.3"/>
<polyline stroke-width="7.81" points="917.6,873.3 918.0,875.3 918.4,877.2 918.8,879.2 919.2,881.1 919.7,883.1 920.1,885.0 920.5,887.0 920.9,889.0"/>
<polyline stroke-width="7.82" points="920.9,889.0 921.4,890.9 921.8,892.9 922.2,894.8 922.6,896.8 923.0,898.7 923.5,900.7 923.9,902.6 924.3,904.6"/>
<polyline stroke-width="7.83" points="924.3,904.6 924.8,906.6 925.2,908.5 925.6,910.5 926.0,912.4 926.5,914.4 926.9,916.3 927.3,918.3 927.8,920.2"/>
<polyline stroke-width="7.84" points="927.8,920.2 928.2,922.2 928.6,924.1 929.1,926.1 929.5,928.0 930.0,930.0 930.4,931.9 930.9,933.9 931.3,935.8"/>
<polyline stroke-width="7.85" points="931.3,935.8 931.7,937.8 932.2,939.7 932.6,941.7 933.1,943.6 933.5,945.6 934.0,947.5 934.4,949.5 934.9,951.4"/>
<polyline stroke-width="7.87" points="934.9,951.4 935.3,953.4 935.8,955.3 936.3,957.3 936.7,959.2 937.2,961.2 937.6,963.1 938.1,965.1 938.5,967.0"/>
<polyline stroke-width="7.87" points="938.5,967.0 939.0,969.0 939.5,970.9 939.9,972.9 940.4,974.8 940.9,976.7 941.3,978.7 941.8,980.6 942.2,982.6"/>
<polyline stroke-width="7.88" points="942.2,982.6 942.7,984.5 943.2,986.5 943.6,988.4 944.1,990.4 944.6,992.3 945.0,994.3 945.5,996.2 946.0,998.1"/>
<polyline stroke-width="7.89" points="946.0,998.1 946.4,1000.1 946.9,1002.0 947.4,1004.0 947.8,1005.9 948.3,1007.9 948.8,1009.8 949.3,1011.8 949.7,1013.7"/>
<polyline stroke-width="7.89" points="949.7,1013.7 950.2,1015.6 950.7,1017.6 951.2,1019.5 951.6,1021.5 952.1,1023.4 952.6,1025.4 953.1,1027.3 953.5,1029.3"/>
<polyline stroke-width="7.90" points="953.5,1029.3 954.0,1031.2 954.5,1033.1 955.0,1035.1 955.4,1037.0 955.9,1039.0 956.4,1040.9 956.9,1042.8 957.4,1044.8"/>
<polyline stroke-width="7.91" points="957.4,1044.8 957.8,1046.7 958.3,1048.7 958.8,1050.6 959.3,1052.6 959.8,1054.5 960.3,1056.4 960.7,1058.4 961.2,1060.3"/>
<polyline stroke-width="7.92" points="961.2,1060.3 961.7,1062.3 962.2,1064.2 962.7,1066.1 963.2,1068.1 963.7,1070.0 964.1,1072.0 964.6,1073.9 965.1,1075.8"/>
<polyline stroke-width="7.92" points="965.1,1075.8 965.6,1077.8 966.1,1079.7 966.6,1081.7 967.1,1083.6 967.6,1085.5 968.1,1087.5 968.6,1089.4 969.1,1091.4"/>
<polyline stroke-width="7.93" points="969.1,1091.4 969.6,1093.3 970.0,1095.2 970.5,1097.2 971.0,1099.1 971.5,1101.0 972.0,1103.0 972.5,1104.9 973.0,1106.9"/>
<polyline stroke-width="7.94" points="973.0,1106.9 973.5,1108.8 974.0,1110.7 974.5,1112.7 975.0,1114.6 975.5,1116.5 976.0,1118.5 976.5,1120.4 977.1,1122.3"/>
<polyline stroke-width="7.95" points="977.1,1122.3 977.6,1124.3 978.1,1126.2 978.6,1128.2 979.1,1130.1 979.6,1132.0 980.1,1134.0 980.6,1135.9 981.1,1137.8"/>
<polyline stroke-width="7.97" points="981.1,1137.8 981.6,1139.8 982.1,1141.7 982.7,1143.6 983.2,1145.6 983.7,1147.5 984.2,1149.4 984.8,1151.4 985.3,1153.3"/>
<polyline stroke-width="8.01" points="985.3,1153.3 985.8,1155.2 986.3,1157.1 986.9,1159.1 987.4,1161.0 988.0,1162.9 988.5,1164.8 989.0,1166.8 989.6,1168.7"/>
<polyline stroke-width="8.06" points="989.6,1168.7 990.1,1170.6 990.7,1172.5 991.3,1174.5 991.8,1176.4 992.4,1178.3 993.0,1180.2 993.5,1182.1 994.1,1184.0"/>
<polyline stroke-width="8.12" points="994.1,1184.0 994.7,1186.0 995.3,1187.9 995.9,1189.8 996.4,1191.7 997.0,1193.6 997.6,1195.5 998.3,1197.4 998.9,1199.3"/>
<polyline stroke-width="8.20" points="998.9,1199.3 999.5,1201.2 1000.1,1203.1 1000.7,1205.0 1001.4,1206.9 1002.0,1208.8 1002.6,1210.7 1003.3,1212.6 1003.9,1214.5"/>
<polyline stroke-width="8.30" points="1003.9,1214.5 1004.6,1216.4 1005.3,1218.3 1005.9,1220.2 1006.6,1222.1 1007.3,1223.9 1008.0,1225.8 1008.7,1227.7 1009.4,1229.6"/>
<polyline stroke-width="8.42" points="1009.4,1229.6 1010.1,1231.4 1010.8,1233.3 1011.5,1235.2 1012.2,1237.0 1012.9,1238.9 1013.7,1240.8 1014.4,1242.6 1015.2,1244.5"/>
<polyline stroke-width="8.54" points="1015.2,1244.5 1015.9,1246.3 1016.7,1248.2 1017.4,1250.0 1018.2,1251.9 1019.0,1253.7 1019.8,1255.6 1020.6,1257.4 1021.3,1259.2"/>
<polyline stroke-width="8.66" points="1021.3,1259.2 1022.1,1261.1 1022.9,1262.9 1023.7,1264.7 1024.6,1266.6 1025.4,1268.4 1026.2,1270.2 1027.0,1272.0 1027.8,1273.9"/>
<polyline stroke-width="8.77" points="1027.8,1273.9 1028.7,1275.7 1029.5,1277.5 1030.4,1279.3 1031.2,1281.1 1032.1,1282.9 1032.9,1284.7 1033.8,1286.5 1034.7,1288.3"/>
<polyline stroke-width="8.89" points="1034.7,1288.3 1035.5,1290.1 1036.4,1291.9 1037.3,1293.7 1038.2,1295.5 1039.1,1297.3 1040.0,1299.1 1040.9,1300.9 1041.8,1302.7"/>
<polyline stroke-width="9.04" points="1041.8,1302.7 1042.7,1304.4 1043.6,1306.2 1044.5,1308.0 1045.5,1309.8 1046.4,1311.5 1047.4,1313.3 1048.3,1315.1 1049.3,1316.8"/>
<polyline stroke-width="9.23" points="1049.3,1316.8 1050.3,1318.6 1051.2,1320.3 1052.2,1322.0 1053.2,1323.8 1054.2,1325.5 1055.2,1327.2 1056.2,1329.0 1057.2,1330.7"/>
<polyline stroke-width="9.45" points="1057.2,1330.7 1058.3,1332.4 1059.3,1334.1 1060.3,1335.8 1061.4,1337.5 1062.5,1339.2 1063.5,1340.9 1064.6,1342.6 1065.7,1344.3"/>
<polyline stroke-width="9.72" points="1065.7,1344.3 1066.8,1346.0 1067.9,1347.6 1069.0,1349.3 1070.1,1351.0 1071.2,1352.6 1072.4,1354.2 1073.5,1355.9 1074.7,1357.5"/>
<polyline stroke-width="10.03" points="1074.7,1357.5 1075.9,1359.1 1077.0,1360.8 1078.2,1362.4 1079.4,1364.0 1080.6,1365.6 1081.8,1367.2 1083.1,1368.7 1084.3,1370.3"/>
<polyline stroke-width="10.39" points="1084.3,1370.3 1085.6,1371.9 1086.8,1373.4 1088.1,1375.0 1089.4,1376.5 1090.7,1378.0 1092.0,1379.6 1093.3,1381.1 1094.6,1382.6"/>
<polyline stroke-width="10.79" points="1094.6,1382.6 1095.9,1384.1 1097.3,1385.5 1098.6,1387.0 1100.0,1388.5 1101.4,1389.9 1102.7,1391.4 1104.1,1392.8 1105.5,1394.2"/>
<polyline stroke-width="11.22" points="1105.5,1394.2 1107.0,1395.6 1108.4,1397.0 1109.8,1398.4 1111.3,1399.8 1112.8,1401.2 1114.2,1402.5 1115.7,1403.9 1117.2,1405.2"/>
<polyline stroke-width="11.65" points="1117.2,1405.2 1118.7,1406.5 1120.2,1407.8 1121.8,1409.1 1123.3,1410.4 1124.8,1411.7 1126.4,1412.9 1128.0,1414.2 1129.5,1415.4"/>
<polyline stroke-width="12.07" points="1129.5,1415.4 1131.1,1416.6 1132.7,1417.8 1134.3,1419.0 1135.9,1420.2 1137.5,1421.4 1139.2,1422.5 1140.8,1423.7 1142.5,1424.8"/>
<polyline stroke-width="12.48" points="1142.5,1424.8 1144.1,1425.9 1145.8,1427.0 1147.5,1428.1 1149.1,1429.2 1150.8,1430.3 1152.5,1431.3 1154.2,1432.4 1156.0,1433.4"/>
<polyline stroke-width="12.87" points="1156.0,1433.4 1157.7,1434.4 1159.4,1435.4 1161.2,1436.4 1162.9,1437.4 1164.7,1438.3 1166.4,1439.3 1168.2,1440.2 1170.0,1441.1"/>
<polyline stroke-width="13.24" points="1170.0,1441.1 1171.8,1442.0 1173.6,1442.9 1175.4,1443.8 1177.2,1444.6 1179.0,1445.5 1180.8,1446.3 1182.6,1447.1 1184.5,1447.9"/>
<polyline stroke-width="13.58" points="1184.5,1447.9 1186.3,1448.7 1188.2,1449.5 1190.0,1450.2 1191.9,1451.0 1193.7,1451.7 1195.6,1452.4 1197.5,1453.1 1199.4,1453.7"/>
<polyline stroke-width="13.88" points="1199.4,1453.7 1201.3,1454.4 1203.2,1455.0 1205.1,1455.6 1207.0,1456.3 1208.9,1456.8 1210.8,1457.4 1212.7,1458.0 1214.6,1458.5"/>
<polyline stroke-width="14.13" points="1214.6,1458.5 1216.6,1459.0 1218.5,1459.5 1220.5,1460.0 1222.4,1460.5 1224.3,1460.9 1226.3,1461.4 1228.3,1461.8 1230.2,1462.2"/>
<polyline stroke-width="14.33" points="1230.2,1462.2 1232.2,1462.5 1234.2,1462.9 1236.1,1463.2 1238.1,1463.6 1240.1,1463.9 1242.1,1464.1 1244.0,1464.4 1246.0,1464.7"/>
<polyline stroke-width="14.46" points="1246.0,1464.7 1248.0,1464.9 1250.0,1465.1 1252.0,1465.3 1254.0,1465.4 1256.0,1465.6 1258.0,1465.7 1260.0,1465.8 1262.0,1465.9"/>
<polyline stroke-width="14.50" points="1262.0,1465.9 1264.0,1466.0 1266.0,1466.0 1268.0,1466.0 1270.0,1466.0 1272.0,1466.0 1274.0,1466.0 1276.0,1465.9 1278.0,1465.9"/>
<polyline stroke-width="14.45" points="1278.0,1465.9 1280.0,1465.8 1282.0,1465.6 1284.0,1465.5 1286.0,1465.4 1288.0,1465.2 1289.9,1465.0 1291.9,1464.8 1293.9,1464.5"/>
<polyline stroke-width="14.31" points="1293.9,1464.5 1295.9,1464.2 1297.9,1464.0 1299.9,1463.7 1301.8,1463.3 1303.8,1463.0 1305.8,1462.6 1307.7,1462.2 1309.7,1461.8"/>
<polyline stroke-width="14.07" points="1309.7,1461.8 1311.6,1461.4 1313.6,1461.0 1315.5,1460.5 1317.5,1460.0 1319.4,1459.5 1321.3,1459.0 1323.3,1458.4 1325.2,1457.9"/>
<polyline stroke-width="13.75" points="1325.2,1457.9 1327.1,1457.3 1329.0,1456.7 1330.9,1456.0 1332.8,1455.4 1334.7,1454.7 1336.6,1454.0 1338.4,1453.3 1340.3,1452.6"/>
<polyline stroke-width="13.56" points="1340.3,1452.6 1342.2,1451.9 1344.0,1451.2 1345.9,1450.4 1347.8,1449.7 1349.6,1449.0 1351.5,1448.2 1353.3,1447.5 1355.2,1446.7"/>
<polyline stroke-width="13.67" points="1355.2,1446.7 1357.1,1446.0 1358.9,1445.3 1360.8,1444.6 1362.7,1443.9 1364.6,1443.2 1366.4,1442.6 1368.3,1441.9 1370.2,1441.2"/>
<polyline stroke-width="13.80" points="1370.2,1441.2 1372.1,1440.6 1374.0,1439.9 1375.9,1439.3 1377.8,1438.7 1379.7,1438.1 1381.6,1437.4 1383.5,1436.8 1385.4,1436.2"/>
<polyline stroke-width="13.85" points="1385.4,1436.2 1387.3,1435.6 1389.2,1435.0 1391.1,1434.4 1393.0,1433.8 1394.9,1433.2 1396.8,1432.5 1398.7,1431.9 1400.7,1431.3"/>
<polyline stroke-width="13.83" points="1400.7,1431.3 1402.6,1430.7 1404.5,1430.1 1406.4,1429.5 1408.3,1428.9 1410.2,1428.3 1412.1,1427.6 1414.0,1427.0 1415.9,1426.4"/>
<polyline stroke-width="13.71" points="1415.9,1426.4 1417.8,1425.7 1419.7,1425.1 1421.5,1424.4 1423.4,1423.7 1425.3,1423.1 1427.2,1422.4 1429.1,1421.7 1430.9,1421.0"/>
<polyline stroke-width="13.52" points="1430.9,1421.0 1432.8,1420.3 1434.7,1419.6 1436.5,1418.8 1438.4,1418.1 1440.3,1417.3 1442.1,1416.6 1443.9,1415.8 1445.8,1415.0"/>
<polyline stroke-width="13.31" points="1445.8,1415.0 1447.6,1414.2 1449.4,1413.4 1451.3,1412.6 1453.1,1411.8 1454.9,1410.9 1456.7,1410.1 1458.5,1409.3 1460.4,1408.4"/>
<polyline stroke-width="13.16" points="1460.4,1408.4 1462.2,1407.5 1464.0,1406.7 1465.8,1405.8 1467.6,1404.9 1469.4,1404.1 1471.2,1403.2 1473.0,1402.3 1474.7,1401.4"/>
<polyline stroke-width="13.07" points="1474.7,1401.4 1476.5,1400.5 1478.3,1399.6 1480.1,1398.7 1481.9,1397.8 1483.7,1396.9 1485.5,1396.0 1487.2,1395.1 1489.0,1394.2"/>
<polyline stroke-width="13.06" points="1489.0,1394.2 1490.8,1393.3 1492.6,1392.4 1494.4,1391.4 1496.2,1390.5 1497.9,1389.6 1499.7,1388.7 1501.5,1387.8 1503.3,1386.9"/>
<polyline stroke-width="13.12" points="1503.3,1386.9 1505.1,1386.0 1506.9,1385.1 1508.7,1384.2 1510.4,1383.3 1512.2,1382.4 1514.0,1381.6 1515.8,1380.7 1517.6,1379.8"/>
<polyline stroke-width="13.24" points="1517.6,1379.8 1519.4,1378.9 1521.2,1378.1 1523.1,1377.2 1524.9,1376.4 1526.7,1375.5 1528.5,1374.7 1530.3,1373.9 1532.1,1373.0"/>
<polyline stroke-width="13.37" points="1532.1,1373.0 1534.0,1372.2 1535.8,1371.4 1537.6,1370.6 1539.4,1369.8 1541.3,1369.0 1543.1,1368.2 1544.9,1367.4 1546.8,1366.6"/>
<polyline stroke-width="13.49" points="1546.8,1366.6 1548.6,1365.8 1550.5,1365.1 1552.3,1364.3 1554.2,1363.5 1556.0,1362.8 1557.9,1362.0 1559.7,1361.3 1561.6,1360.5"/>
<polyline stroke-width="13.59" points="1561.6,1360.5 1563.4,1359.8 1565.3,1359.1 1567.2,1358.3 1569.0,1357.6 1570.9,1356.9 1572.8,1356.2 1574.6,1355.5 1576.5,1354.8"/>
<polyline stroke-width="13.69" points="1576.5,1354.8 1578.4,1354.1 1580.3,1353.4 1582.2,1352.7 1584.0,1352.0 1585.9,1351.3 1587.8,1350.6 1589.7,1350.0 1591.6,1349.3"/>
<polyline stroke-width="13.77" points="1591.6,1349.3 1593.5,1348.6 1595.3,1348.0 1597.2,1347.3 1599.1,1346.7 1601.0,1346.0 1602.9,1345.4 1604.8,1344.8 1606.7,1344.1"/>
<polyline stroke-width="13.88" points="1606.7,1344.1 1608.6,1343.5 1610.5,1342.9 1612.4,1342.3 1614.3,1341.7 1616.2,1341.1 1618.1,1340.5 1620.1,1339.9 1622.0,1339.4"/>
<polyline stroke-width="14.09" points="1622.0,1339.4 1623.9,1338.8 1625.8,1338.3 1627.8,1337.8 1629.7,1337.3 1631.6,1336.8 1633.6,1336.3 1635.5,1335.9 1637.5,1335.5"/>
<polyline stroke-width="14.34" points="1637.5,1335.5 1639.5,1335.1 1641.4,1334.7 1643.4,1334.4 1645.4,1334.0 1647.4,1333.8 1649.3,1333.5 1651.3,1333.3 1653.3,1333.1"/>
<polyline stroke-width="14.50" points="1653.3,1333.1 1655.3,1332.9 1657.3,1332.8 1659.3,1332.7 1661.3,1332.7 1663.3,1332.7 1665.3,1332.7 1667.3,1332.8 1669.3,1332.9"/>
<polyline stroke-width="14.28" points="1669.3,1332.9 1671.3,1333.1 1673.3,1333.3 1675.3,1333.6 1677.2,1333.9 1679.2,1334.3 1681.2,1334.7 1683.1,1335.2 1685.0,1335.7"/>
<polyline stroke-width="13.59" points="1685.0,1335.7 1686.9,1336.3 1688.8,1336.9 1690.7,1337.6 1692.6,1338.3 1694.5,1339.0 1696.3,1339.8 1698.1,1340.6 1699.9,1341.5"/>
<polyline stroke-width="12.80" points="1699.9,1341.5 1701.7,1342.3 1703.5,1343.3 1705.3,1344.2 1707.0,1345.2 1708.8,1346.2 1710.5,1347.2 1712.2,1348.3 1713.9,1349.3"/>
<polyline stroke-width="12.09" points="1713.9,1349.3 1715.5,1350.4 1717.2,1351.6 1718.8,1352.7 1720.5,1353.9 1722.1,1355.1 1723.7,1356.3 1725.2,1357.5 1726.8,1358.7"/>
<polyline stroke-width="11.52" points="1726.8,1358.7 1728.4,1360.0 1729.9,1361.2 1731.5,1362.5 1733.0,1363.8 1734.5,1365.1 1736.0,1366.5 1737.5,1367.8 1738.9,1369.2"/>
<polyline stroke-width="11.06" points="1738.9,1369.2 1740.4,1370.5 1741.9,1371.9 1743.3,1373.3 1744.7,1374.7 1746.2,1376.1 1747.6,1377.5 1749.0,1378.9 1750.4,1380.4"/>
<polyline stroke-width="10.67" points="1750.4,1380.4 1751.7,1381.8 1753.1,1383.3 1754.5,1384.7 1755.8,1386.2 1757.2,1387.7 1758.5,1389.2 1759.8,1390.7 1761.1,1392.2"/>
<polyline stroke-width="10.36" points="1761.1,1392.2 1762.4,1393.7 1763.7,1395.2 1765.0,1396.8 1766.3,1398.3 1767.6,1399.9 1768.9,1401.4 1770.1,1403.0 1771.4,1404.5"/>
<polyline stroke-width="10.14" points="1771.4,1404.5 1772.6,1406.1 1773.9,1407.6 1775.1,1409.2 1776.3,1410.8 1777.6,1412.4 1778.8,1414.0 1780.0,1415.5 1781.2,1417.1"/>
<polyline stroke-width="9.99" points="1781.2,1417.1 1782.4,1418.7 1783.6,1420.3 1784.8,1421.9 1786.0,1423.5 1787.2,1425.1 1788.4,1426.8 1789.6,1428.4 1790.7,1430.0"/>
<polyline stroke-width="9.90" points="1790.7,1430.0 1791.9,1431.6 1793.1,1433.2 1794.3,1434.8 1795.4,1436.5 1796.6,1438.1 1797.8,1439.7 1799.0,1441.3 1800.1,1442.9"/>
<polyline stroke-width="9.88" points="1800.1,1442.9 1801.3,1444.6 1802.5,1446.2 1803.6,1447.8 1804.8,1449.4 1806.0,1451.1 1807.1,1452.7 1808.3,1454.3 1809.5,1455.9"/>
<polyline stroke-width="9.92" points="1809.5,1455.9 1810.6,1457.6 1811.8,1459.2 1813.0,1460.8 1814.2,1462.4 1815.3,1464.0 1816.5,1465.7 1817.7,1467.3 1818.9,1468.9"/>
<polyline stroke-width="10.03" points="1818.9,1468.9 1820.1,1470.5 1821.3,1472.1 1822.5,1473.7 1823.7,1475.3 1824.9,1476.9 1826.1,1478.5 1827.3,1480.1 1828.5,1481.7"/>
<polyline stroke-width="10.20" points="1828.5,1481.7 1829.7,1483.3 1830.9,1484.8 1832.2,1486.4 1833.4,1488.0 1834.7,1489.6 1835.9,1491.1 1837.2,1492.7 1838.4,1494.2"/>
<polyline stroke-width="10.43" points="1838.4,1494.2 1839.7,1495.8 1841.0,1497.3 1842.3,1498.8 1843.6,1500.4 1844.8,1501.9 1846.2,1503.4 1847.5,1504.9 1848.8,1506.4"/>
<polyline stroke-width="10.71" points="1848.8,1506.4 1850.1,1507.9 1851.5,1509.4 1852.8,1510.9 1854.1,1512.4 1855.5,1513.8 1856.9,1515.3 1858.2,1516.8 1859.6,1518.2"/>
<polyline stroke-width="11.00" points="1859.6,1518.2 1861.0,1519.6 1862.4,1521.1 1863.8,1522.5 1865.2,1523.9 1866.6,1525.3 1868.1,1526.7 1869.5,1528.1 1870.9,1529.5"/>
<polyline stroke-width="11.30" points="1870.9,1529.5 1872.4,1530.9 1873.8,1532.3 1875.3,1533.6 1876.8,1535.0 1878.3,1536.3 1879.7,1537.7 1881.2,1539.0 1882.7,1540.3"/>
<polyline stroke-width="11.59" points="1882.7,1540.3 1884.2,1541.7 1885.7,1543.0 1887.3,1544.3 1888.8,1545.6 1890.3,1546.8 1891.9,1548.1 1893.4,1549.4 1895.0,1550.7"/>
<polyline stroke-width="11.90" points="1895.0,1550.7 1896.5,1551.9 1898.1,1553.1 1899.7,1554.4 1901.3,1555.6 1902.8,1556.8 1904.4,1558.0 1906.0,1559.2 1907.6,1560.4"/>
<polyline stroke-width="12.20" points="1907.6,1560.4 1909.3,1561.6 1910.9,1562.8 1912.5,1563.9 1914.2,1565.1 1915.8,1566.2 1917.4,1567.3 1919.1,1568.5 1920.8,1569.6"/>
<polyline stroke-width="12.51" points="1920.8,1569.6 1922.4,1570.7 1924.1,1571.8 1925.8,1572.9 1927.5,1573.9 1929.2,1575.0 1930.9,1576.0 1932.6,1577.1 1934.3,1578.1"/>
<polyline stroke-width="12.81" points="1934.3,1578.1 1936.0,1579.1 1937.7,1580.1 1939.5,1581.1 1941.2,1582.1 1943.0,1583.1 1944.7,1584.1 1946.5,1585.0 1948.2,1586.0"/>
<polyline stroke-width="13.09" points="1948.2,1586.0 1950.0,1586.9 1951.8,1587.8 1953.6,1588.8 1955.3,1589.7 1957.1,1590.5 1958.9,1591.4 1960.7,1592.3 1962.5,1593.2"/>
<polyline stroke-width="13.34" points="1962.5,1593.2 1964.3,1594.0 1966.2,1594.8 1968.0,1595.7 1969.8,1596.5 1971.6,1597.3 1973.5,1598.1 1975.3,1598.9 1977.2,1599.7"/>
<polyline stroke-width="13.56" points="1977.2,1599.7 1979.0,1600.4 1980.9,1601.2 1982.7,1601.9 1984.6,1602.7 1986.4,1603.4 1988.3,1604.1 1990.2,1604.8 1992.0,1605.5"/>
<polyline stroke-width="13.74" points="1992.0,1605.5 1993.9,1606.2 1995.8,1606.9 1997.7,1607.6 1999.6,1608.2 2001.5,1608.9 2003.4,1609.5 2005.3,1610.2 2007.2,1610.8"/>
<polyline stroke-width="13.90" points="2007.2,1610.8 2009.1,1611.4 2011.0,1612.0 2012.9,1612.6 2014.8,1613.2 2016.7,1613.8 2018.6,1614.4 2020.5,1614.9 2022.5,1615.5"/>
<polyline stroke-width="14.03" points="2022.5,1615.5 2024.4,1616.0 2026.3,1616.6 2028.2,1617.1 2030.2,1617.6 2032.1,1618.1 2034.0,1618.6 2036.0,1619.1 2037.9,1619.6"/>
<polyline stroke-width="14.13" points="2037.9,1619.6 2039.9,1620.1 2041.8,1620.6 2043.7,1621.1 2045.7,1621.5 2047.6,1622.0 2049.6,1622.4 2051.5,1622.9 2053.5,1623.3"/>
<polyline stroke-width="14.21" points="2053.5,1623.3 2055.4,1623.7 2057.4,1624.2 2059.4,1624.6 2061.3,1625.0 2063.3,1625.4 2065.2,1625.8 2067.2,1626.2 2069.2,1626.5"/>
<polyline stroke-width="14.28" points="2069.2,1626.5 2071.1,1626.9 2073.1,1627.3 2075.1,1627.7 2077.0,1628.0 2079.0,1628.4 2081.0,1628.7 2082.9,1629.0 2084.9,1629.4"/>
<polyline stroke-width="14.33" points="2084.9,1629.4 2086.9,1629.7 2088.9,1630.0 2090.8,1630.3 2092.8,1630.6 2094.8,1631.0 2096.8,1631.3 2098.7,1631.5 2100.7,1631.8"/>
<polyline stroke-width="14.38" points="2100.7,1631.8 2102.7,1632.1 2104.7,1632.4 2106.7,1632.7 2108.7,1632.9 2110.6,1633.2 2112.6,1633.5 2114.6,1633.7 2116.6,1634.0"/>
<polyline stroke-width="14.41" points="2116.6,1634.0 2118.6,1634.2 2120.6,1634.5 2122.5,1634.7 2124.5,1634.9 2126.5,1635.2 2128.5,1635.4 2130.5,1635.6 2132.5,1635.8"/>
<polyline stroke-width="14.43" points="2132.5,1635.8 2134.5,1636.0 2136.5,1636.2 2138.5,1636.4 2140.4,1636.6 2142.4,1636.8 2144.4,1637.0 2146.4,1637.2 2148.4,1637.4"/>
<polyline stroke-width="14.45" points="2148.4,1637.4 2150.4,1637.6 2152.4,1637.8 2154.4,1637.9 2156.4,1638.1 2158.4,1638.3 2160.4,1638.5 2162.4,1638.6 2164.4,1638.8"/>
<polyline stroke-width="14.46" points="2164.4,1638.8 2166.3,1638.9 2168.3,1639.1 2170.3,1639.2 2172.3,1639.4 2174.3,1639.5 2176.3,1639.7 2178.3,1639.8 2180.3,1640.0"/>
<polyline stroke-width="14.47" points="2180.3,1640.0 2182.3,1640.1 2184.3,1640.2 2186.3,1640.4 2188.3,1640.5 2190.3,1640.6 2192.3,1640.8 2194.3,1640.9 2196.3,1641.0"/>
<polyline stroke-width="14.47" points="2196.3,1641.0 2198.3,1641.1 2200.3,1641.3"/>
</g>
<polygon fill="#0000ff" points="742.0,545.0 746.0,537.5 755.0,538.6 765.0,534.0 771.0,535.5 779.0,538.6 792.0,539.0 798.0,544.0 809.0,544.5 809.0,562.0 799.0,560.8 790.0,557.8 784.0,557.0 773.0,554.5 760.0,555.0 752.0,559.0 742.0,562.0"/>
<g stroke="#8c8c8c" stroke-width="5" fill="none">
<line x1="640.0" y1="147.6" x2="638.0" y2="381.5"/>
<line x1="683.5" y1="98.2" x2="681.0" y2="334.0"/>
<line x1="795.5" y1="301.5" x2="795.5" y2="534.2"/>
<line x1="762.4" y1="444.7" x2="762.4" y2="679.5"/>
<line x1="990.8" y1="1094.7" x2="990.8" y2="1328.6"/>
<line x1="1663.5" y1="1239.4" x2="1663.5" y2="1473.7"/>
</g>
<text x="144.5" y="88.6" font-size="80.27" textLength="173.5" lengthAdjust="spacingAndGlyphs">0.010</text>
<text x="144.5" y="409.6" font-size="75.99" textLength="173.5" lengthAdjust="spacingAndGlyphs">0.008</text>
<text x="144.5" y="733.3" font-size="79.53" textLength="172.8" lengthAdjust="spacingAndGlyphs">0.006</text>
<text x="144.5" y="1055.0" font-size="75.99" textLength="171.7" lengthAdjust="spacingAndGlyphs">0.004</text>
<text x="144.4" y="1378.5" font-size="79.38" textLength="174.8" lengthAdjust="spacingAndGlyphs">0.002</text>
<text x="144.5" y="1702.4" font-size="80.27" textLength="173.5" lengthAdjust="spacingAndGlyphs">0.000</text>
<text x="326.6" y="1794.4" font-size="79.11" textLength="120.1" lengthAdjust="spacingAndGlyphs">100</text>
<text x="691.5" y="1794.4" font-size="79.11" textLength="116.4" lengthAdjust="spacingAndGlyphs">200</text>
<text x="1052.5" y="1794.4" font-size="79.11" textLength="116.7" lengthAdjust="spacingAndGlyphs">300</text>
<text x="1416.0" y="1794.4" font-size="79.11" textLength="114.4" lengthAdjust="spacingAndGlyphs">400</text>
<text x="1774.3" y="1794.4" font-size="79.11" textLength="117.5" lengthAdjust="spacingAndGlyphs">500</text>
<text x="2136.8" y="1794.4" font-size="79.11" textLength="116.3" lengthAdjust="spacingAndGlyphs">600</text>
<text x="1261.5" y="1927.2" font-size="87.0" textLength="219.9" lengthAdjust="spacingAndGlyphs">T (°C)</text>
<g transform="rotate(-90)">
<text x="-1328.3" y="93.8" font-size="87.0" textLength="335.4" lengthAdjust="spacingAndGlyphs">desorbed</text>
<text x="-963.8" y="93.8" font-size="87.0" textLength="141.7" lengthAdjust="spacingAndGlyphs">NH</text>
<text x="-825.5" y="118.3" font-size="59.0" textLength="30.9" lengthAdjust="spacingAndGlyphs">3</text>
<text x="-771.0" y="93.8" font-size="87.0" textLength="432.0" lengthAdjust="spacingAndGlyphs">(mmol/K/g)</text>
</g>
<path d="M1390.2,131.9 H1581.5" stroke="#000000" stroke-width="8" fill="none"/>
<text x="1590.5" y="157.5" font-size="73.5" textLength="816.2" lengthAdjust="spacingAndGlyphs">SAPO-34-5h (1.37 mmol/g)</text>
<path d="M1390.2,232.6 H1581.5" stroke="#008000" stroke-width="8" fill="none"/>
<text x="1590.6" y="258.4" font-size="73.5" textLength="849.4" lengthAdjust="spacingAndGlyphs">SAPO-34-24h (1.41 mmol/g)</text>
<path d="M1390.2,333.4 H1581.5" stroke="#0000ff" stroke-width="8" fill="none"/>
<text x="1590.6" y="358.4" font-size="73.5" textLength="881.0" lengthAdjust="spacingAndGlyphs">SAPO-34-B-5h (1.17 mmol/g)</text>
<text x="684.4" y="97.9" font-size="54.07" font-weight="bold" textLength="158.9" lengthAdjust="spacingAndGlyphs">174 °C</text>
<text x="439.8" y="184.1" font-size="51.85" font-weight="bold" textLength="158.3" lengthAdjust="spacingAndGlyphs">161 °C</text>
<text x="770.7" y="282.1" font-size="52.00" font-weight="bold" textLength="254.4" lengthAdjust="spacingAndGlyphs">212-220 °C</text>
<text x="684.0" y="747.6" font-size="56.00" font-weight="bold" textLength="155.9" lengthAdjust="spacingAndGlyphs">202 °C</text>
<text x="901.8" y="1393.1" font-size="52.59" font-weight="bold" textLength="155.8" lengthAdjust="spacingAndGlyphs">266 °C</text>
<text x="1574.8" y="1175.3" font-size="52.89" font-weight="bold" textLength="252.8" lengthAdjust="spacingAndGlyphs">451-454 °C</text>
<path d="M1622,1397 V1416" stroke="#000" stroke-width="4" fill="none"/>
</svg></body></html>
